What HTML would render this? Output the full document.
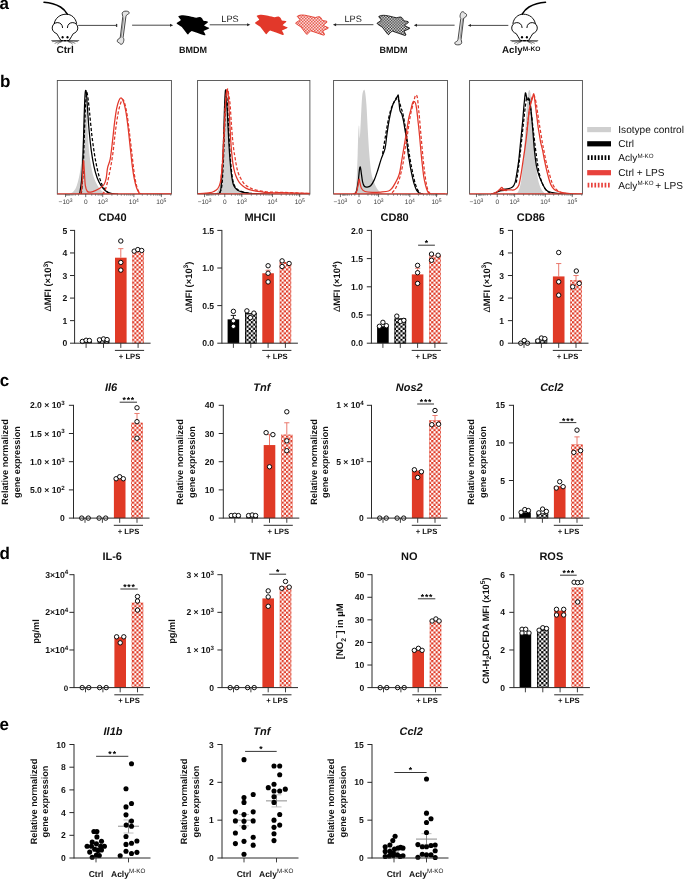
<!DOCTYPE html>
<html><head><meta charset="utf-8"><style>
html,body{margin:0;padding:0;background:#fff;}
svg{display:block;font-family:"Liberation Sans", sans-serif;will-change:transform;text-rendering:geometricPrecision;}
</style></head><body>
<svg width="685" height="879" viewBox="0 0 685 879">
<defs>
<pattern id="chkR" patternUnits="userSpaceOnUse" width="4.4" height="4.4" x="0" y="0">
<rect width="4.4" height="4.4" fill="#fff"/>
<rect width="2.2" height="2.2" fill="#e03a26"/><rect x="2.2" y="2.2" width="2.2" height="2.2" fill="#e03a26"/>
</pattern>
<pattern id="chkK" patternUnits="userSpaceOnUse" width="4.4" height="4.4" x="0" y="0">
<rect width="4.4" height="4.4" fill="#fff"/>
<rect width="2.2" height="2.2" fill="#000"/><rect x="2.2" y="2.2" width="2.2" height="2.2" fill="#000"/>
</pattern>
<pattern id="fchkR" patternUnits="userSpaceOnUse" width="3" height="3">
<rect width="3" height="3" fill="#fff"/><rect width="1.5" height="1.5" fill="#e2382a"/><rect x="1.5" y="1.5" width="1.5" height="1.5" fill="#e2382a"/>
</pattern>
<pattern id="fchkK" patternUnits="userSpaceOnUse" width="2.8" height="2.8">
<rect width="2.8" height="2.8" fill="#fff"/><rect width="1.4" height="1.4" fill="#1a1a1a"/><rect x="1.4" y="1.4" width="1.4" height="1.4" fill="#1a1a1a"/>
</pattern>
</defs>
<rect width="685" height="879" fill="#fff"/>
<text x="-0.60" y="8.70" font-size="17" font-weight="bold" text-anchor="start" fill="#000" >a</text>
<text x="0.10" y="86.80" font-size="17" font-weight="bold" text-anchor="start" fill="#000" >b</text>
<text x="-0.20" y="386.30" font-size="17" font-weight="bold" text-anchor="start" fill="#000" >c</text>
<text x="-0.50" y="558.50" font-size="17" font-weight="bold" text-anchor="start" fill="#000" >d</text>
<text x="-0.60" y="730.10" font-size="17" font-weight="bold" text-anchor="start" fill="#000" >e</text>
<rect x="80.30" y="341.17" width="11.6" height="2.03" fill="#000"/>
<rect x="97.70" y="339.59" width="11.6" height="3.61" fill="url(#chkK)"/>
<rect x="98.10" y="339.99" width="10.799999999999999" height="3.21" fill="none" stroke="#000" stroke-width="0.8"/>
<rect x="115.00" y="257.70" width="11.6" height="85.50" fill="#e03a26"/>
<rect x="132.30" y="250.70" width="11.6" height="92.50" fill="url(#chkR)"/>
<rect x="132.70" y="251.10" width="10.799999999999999" height="92.10" fill="none" stroke="#e03a26" stroke-width="0.6" stroke-opacity="0.5"/>
<line x1="120.80" y1="257.70" x2="120.80" y2="248.67" stroke="#e86b5e" stroke-width="0.9" />
<line x1="118.20" y1="248.67" x2="123.40" y2="248.67" stroke="#e86b5e" stroke-width="0.9" />
<circle cx="82.40" cy="341.40" r="2.2" fill="#fff" stroke="#000" stroke-width="0.95"/>
<circle cx="86.10" cy="340.27" r="2.2" fill="#fff" stroke="#000" stroke-width="0.95"/>
<circle cx="89.40" cy="340.49" r="2.2" fill="#fff" stroke="#000" stroke-width="0.95"/>
<circle cx="99.50" cy="339.82" r="2.2" fill="#fff" stroke="#000" stroke-width="0.95"/>
<circle cx="103.50" cy="338.91" r="2.2" fill="#fff" stroke="#000" stroke-width="0.95"/>
<circle cx="107.10" cy="339.59" r="2.2" fill="#fff" stroke="#000" stroke-width="0.95"/>
<circle cx="120.80" cy="241.00" r="2.2" fill="#fff" stroke="#000" stroke-width="0.95"/>
<circle cx="120.80" cy="262.44" r="2.2" fill="#fff" stroke="#000" stroke-width="0.95"/>
<circle cx="120.80" cy="270.11" r="2.2" fill="#fff" stroke="#000" stroke-width="0.95"/>
<circle cx="134.20" cy="251.16" r="2.2" fill="#fff" stroke="#000" stroke-width="0.95"/>
<circle cx="137.80" cy="249.58" r="2.2" fill="#fff" stroke="#000" stroke-width="0.95"/>
<circle cx="141.70" cy="250.48" r="2.2" fill="#fff" stroke="#000" stroke-width="0.95"/>
<line x1="74.60" y1="229.95" x2="74.60" y2="343.65" stroke="#2a2a2a" stroke-width="1.0" />
<line x1="74.60" y1="343.20" x2="150.60" y2="343.20" stroke="#2a2a2a" stroke-width="1.0" />
<line x1="70.00" y1="343.20" x2="74.60" y2="343.20" stroke="#2a2a2a" stroke-width="1.0" />
<text x="67.20" y="346.34" font-size="8.6" font-weight="bold" text-anchor="end" fill="#111">0</text>
<line x1="70.00" y1="320.64" x2="74.60" y2="320.64" stroke="#2a2a2a" stroke-width="1.0" />
<text x="67.20" y="323.78" font-size="8.6" font-weight="bold" text-anchor="end" fill="#111">1</text>
<line x1="70.00" y1="298.08" x2="74.60" y2="298.08" stroke="#2a2a2a" stroke-width="1.0" />
<text x="67.20" y="301.22" font-size="8.6" font-weight="bold" text-anchor="end" fill="#111">2</text>
<line x1="70.00" y1="275.52" x2="74.60" y2="275.52" stroke="#2a2a2a" stroke-width="1.0" />
<text x="67.20" y="278.66" font-size="8.6" font-weight="bold" text-anchor="end" fill="#111">3</text>
<line x1="70.00" y1="252.96" x2="74.60" y2="252.96" stroke="#2a2a2a" stroke-width="1.0" />
<text x="67.20" y="256.10" font-size="8.6" font-weight="bold" text-anchor="end" fill="#111">4</text>
<line x1="70.00" y1="230.40" x2="74.60" y2="230.40" stroke="#2a2a2a" stroke-width="1.0" />
<text x="67.20" y="233.54" font-size="8.6" font-weight="bold" text-anchor="end" fill="#111">5</text>
<line x1="86.10" y1="343.20" x2="86.10" y2="347.90" stroke="#2a2a2a" stroke-width="0.9" />
<line x1="103.50" y1="343.20" x2="103.50" y2="347.90" stroke="#2a2a2a" stroke-width="0.9" />
<line x1="120.80" y1="343.20" x2="120.80" y2="347.90" stroke="#2a2a2a" stroke-width="0.9" />
<line x1="138.10" y1="343.20" x2="138.10" y2="347.90" stroke="#2a2a2a" stroke-width="0.9" />
<line x1="114.90" y1="350.40" x2="144.10" y2="350.40" stroke="#2a2a2a" stroke-width="1.0" />
<text x="129.60" y="358.80" font-size="7.7" font-weight="bold" text-anchor="middle" fill="#111" >+ LPS</text>
<g transform="translate(47.80,286.20) rotate(-90)">
<text x="0" y="3.38" font-size="9.4" font-weight="bold" text-anchor="middle" fill="#111"><tspan font-weight="normal">Δ</tspan>MFI (×10<tspan font-size="6.6" dy="-3.4">3</tspan><tspan dy="3.4">)</tspan></text>
</g>
<rect x="227.60" y="319.36" width="11.6" height="23.84" fill="#000"/>
<rect x="245.00" y="313.12" width="11.6" height="30.08" fill="url(#chkK)"/>
<rect x="245.40" y="313.52" width="10.799999999999999" height="29.68" fill="none" stroke="#000" stroke-width="0.8"/>
<rect x="262.30" y="273.26" width="11.6" height="69.94" fill="#e03a26"/>
<rect x="279.60" y="261.98" width="11.6" height="81.22" fill="url(#chkR)"/>
<rect x="280.00" y="262.38" width="10.799999999999999" height="80.82" fill="none" stroke="#e03a26" stroke-width="0.6" stroke-opacity="0.5"/>
<line x1="233.40" y1="319.36" x2="233.40" y2="315.38" stroke="#000" stroke-width="0.9" />
<line x1="230.80" y1="315.38" x2="236.00" y2="315.38" stroke="#000" stroke-width="0.9" />
<line x1="268.10" y1="273.26" x2="268.10" y2="270.26" stroke="#e86b5e" stroke-width="0.9" />
<line x1="265.50" y1="270.26" x2="270.70" y2="270.26" stroke="#e86b5e" stroke-width="0.9" />
<circle cx="233.40" cy="311.32" r="2.2" fill="#fff" stroke="#000" stroke-width="0.95"/>
<circle cx="233.40" cy="320.79" r="2.2" fill="#fff" stroke="#000" stroke-width="0.95"/>
<circle cx="233.40" cy="326.36" r="2.2" fill="#fff" stroke="#000" stroke-width="0.95"/>
<circle cx="246.90" cy="310.86" r="2.2" fill="#fff" stroke="#000" stroke-width="0.95"/>
<circle cx="253.90" cy="313.12" r="2.2" fill="#fff" stroke="#000" stroke-width="0.95"/>
<circle cx="250.40" cy="317.63" r="2.2" fill="#fff" stroke="#000" stroke-width="0.95"/>
<circle cx="268.10" cy="265.74" r="2.2" fill="#fff" stroke="#000" stroke-width="0.95"/>
<circle cx="268.10" cy="273.26" r="2.2" fill="#fff" stroke="#000" stroke-width="0.95"/>
<circle cx="268.10" cy="281.91" r="2.2" fill="#fff" stroke="#000" stroke-width="0.95"/>
<circle cx="282.10" cy="260.86" r="2.2" fill="#fff" stroke="#000" stroke-width="0.95"/>
<circle cx="282.10" cy="266.50" r="2.2" fill="#fff" stroke="#000" stroke-width="0.95"/>
<circle cx="289.10" cy="263.49" r="2.2" fill="#fff" stroke="#000" stroke-width="0.95"/>
<line x1="221.90" y1="229.95" x2="221.90" y2="343.65" stroke="#2a2a2a" stroke-width="1.0" />
<line x1="221.90" y1="343.20" x2="297.90" y2="343.20" stroke="#2a2a2a" stroke-width="1.0" />
<line x1="217.30" y1="343.20" x2="221.90" y2="343.20" stroke="#2a2a2a" stroke-width="1.0" />
<text x="214.10" y="346.34" font-size="8.6" font-weight="bold" text-anchor="end" fill="#111">0.0</text>
<line x1="217.30" y1="305.60" x2="221.90" y2="305.60" stroke="#2a2a2a" stroke-width="1.0" />
<text x="214.10" y="308.74" font-size="8.6" font-weight="bold" text-anchor="end" fill="#111">0.5</text>
<line x1="217.30" y1="268.00" x2="221.90" y2="268.00" stroke="#2a2a2a" stroke-width="1.0" />
<text x="214.10" y="271.14" font-size="8.6" font-weight="bold" text-anchor="end" fill="#111">1.0</text>
<line x1="217.30" y1="230.40" x2="221.90" y2="230.40" stroke="#2a2a2a" stroke-width="1.0" />
<text x="214.10" y="233.54" font-size="8.6" font-weight="bold" text-anchor="end" fill="#111">1.5</text>
<line x1="233.40" y1="343.20" x2="233.40" y2="347.90" stroke="#2a2a2a" stroke-width="0.9" />
<line x1="250.80" y1="343.20" x2="250.80" y2="347.90" stroke="#2a2a2a" stroke-width="0.9" />
<line x1="268.10" y1="343.20" x2="268.10" y2="347.90" stroke="#2a2a2a" stroke-width="0.9" />
<line x1="285.40" y1="343.20" x2="285.40" y2="347.90" stroke="#2a2a2a" stroke-width="0.9" />
<line x1="262.20" y1="350.40" x2="291.40" y2="350.40" stroke="#2a2a2a" stroke-width="1.0" />
<text x="276.90" y="358.80" font-size="7.7" font-weight="bold" text-anchor="middle" fill="#111" >+ LPS</text>
<g transform="translate(188.40,287.00) rotate(-90)">
<text x="0" y="3.38" font-size="9.4" font-weight="bold" text-anchor="middle" fill="#111"><tspan font-weight="normal">Δ</tspan>MFI (×10<tspan font-size="6.6" dy="-3.4">3</tspan><tspan dy="3.4">)</tspan></text>
</g>
<rect x="377.10" y="326.28" width="11.6" height="16.92" fill="#000"/>
<rect x="394.50" y="318.38" width="11.6" height="24.82" fill="url(#chkK)"/>
<rect x="394.90" y="318.78" width="10.799999999999999" height="24.42" fill="none" stroke="#000" stroke-width="0.8"/>
<rect x="411.80" y="274.39" width="11.6" height="68.81" fill="#e03a26"/>
<rect x="429.10" y="255.22" width="11.6" height="87.98" fill="url(#chkR)"/>
<rect x="429.50" y="255.62" width="10.799999999999999" height="87.58" fill="none" stroke="#e03a26" stroke-width="0.6" stroke-opacity="0.5"/>
<line x1="417.60" y1="274.39" x2="417.60" y2="268.19" stroke="#e86b5e" stroke-width="0.9" />
<line x1="415.00" y1="268.19" x2="420.20" y2="268.19" stroke="#e86b5e" stroke-width="0.9" />
<circle cx="379.40" cy="326.28" r="2.2" fill="#fff" stroke="#000" stroke-width="0.95"/>
<circle cx="382.90" cy="322.33" r="2.2" fill="#fff" stroke="#000" stroke-width="0.95"/>
<circle cx="386.40" cy="325.72" r="2.2" fill="#fff" stroke="#000" stroke-width="0.95"/>
<circle cx="396.80" cy="316.13" r="2.2" fill="#fff" stroke="#000" stroke-width="0.95"/>
<circle cx="400.30" cy="321.49" r="2.2" fill="#fff" stroke="#000" stroke-width="0.95"/>
<circle cx="403.80" cy="320.36" r="2.2" fill="#fff" stroke="#000" stroke-width="0.95"/>
<circle cx="417.60" cy="265.37" r="2.2" fill="#fff" stroke="#000" stroke-width="0.95"/>
<circle cx="417.60" cy="272.70" r="2.2" fill="#fff" stroke="#000" stroke-width="0.95"/>
<circle cx="417.60" cy="283.42" r="2.2" fill="#fff" stroke="#000" stroke-width="0.95"/>
<circle cx="431.50" cy="254.09" r="2.2" fill="#fff" stroke="#000" stroke-width="0.95"/>
<circle cx="431.50" cy="260.29" r="2.2" fill="#fff" stroke="#000" stroke-width="0.95"/>
<circle cx="438.10" cy="255.22" r="2.2" fill="#fff" stroke="#000" stroke-width="0.95"/>
<line x1="371.40" y1="229.95" x2="371.40" y2="343.65" stroke="#2a2a2a" stroke-width="1.0" />
<line x1="371.40" y1="343.20" x2="447.40" y2="343.20" stroke="#2a2a2a" stroke-width="1.0" />
<line x1="366.80" y1="343.20" x2="371.40" y2="343.20" stroke="#2a2a2a" stroke-width="1.0" />
<text x="363.00" y="346.34" font-size="8.6" font-weight="bold" text-anchor="end" fill="#111">0.0</text>
<line x1="366.80" y1="315.00" x2="371.40" y2="315.00" stroke="#2a2a2a" stroke-width="1.0" />
<text x="363.00" y="318.14" font-size="8.6" font-weight="bold" text-anchor="end" fill="#111">0.5</text>
<line x1="366.80" y1="286.80" x2="371.40" y2="286.80" stroke="#2a2a2a" stroke-width="1.0" />
<text x="363.00" y="289.94" font-size="8.6" font-weight="bold" text-anchor="end" fill="#111">1.0</text>
<line x1="366.80" y1="258.60" x2="371.40" y2="258.60" stroke="#2a2a2a" stroke-width="1.0" />
<text x="363.00" y="261.74" font-size="8.6" font-weight="bold" text-anchor="end" fill="#111">1.5</text>
<line x1="366.80" y1="230.40" x2="371.40" y2="230.40" stroke="#2a2a2a" stroke-width="1.0" />
<text x="363.00" y="233.54" font-size="8.6" font-weight="bold" text-anchor="end" fill="#111">2.0</text>
<line x1="382.90" y1="343.20" x2="382.90" y2="347.90" stroke="#2a2a2a" stroke-width="0.9" />
<line x1="400.30" y1="343.20" x2="400.30" y2="347.90" stroke="#2a2a2a" stroke-width="0.9" />
<line x1="417.60" y1="343.20" x2="417.60" y2="347.90" stroke="#2a2a2a" stroke-width="0.9" />
<line x1="434.90" y1="343.20" x2="434.90" y2="347.90" stroke="#2a2a2a" stroke-width="0.9" />
<line x1="411.70" y1="350.40" x2="440.90" y2="350.40" stroke="#2a2a2a" stroke-width="1.0" />
<text x="426.40" y="358.80" font-size="7.7" font-weight="bold" text-anchor="middle" fill="#111" >+ LPS</text>
<line x1="418.10" y1="245.20" x2="434.90" y2="245.20" stroke="#2a2a2a" stroke-width="0.95" />
<text x="426.50" y="246.20" font-size="8.6" font-weight="bold" text-anchor="middle" fill="#000">*</text>
<g transform="translate(337.00,286.60) rotate(-90)">
<text x="0" y="3.38" font-size="9.4" font-weight="bold" text-anchor="middle" fill="#111"><tspan font-weight="normal">Δ</tspan>MFI (×10<tspan font-size="6.6" dy="-3.4">4</tspan><tspan dy="3.4">)</tspan></text>
</g>
<rect x="518.20" y="342.30" width="11.6" height="0.90" fill="#000"/>
<rect x="535.60" y="339.14" width="11.6" height="4.06" fill="url(#chkK)"/>
<rect x="536.00" y="339.54" width="10.799999999999999" height="3.66" fill="none" stroke="#000" stroke-width="0.8"/>
<rect x="552.90" y="276.42" width="11.6" height="66.78" fill="#e03a26"/>
<rect x="570.20" y="280.26" width="11.6" height="62.94" fill="url(#chkR)"/>
<rect x="570.60" y="280.66" width="10.799999999999999" height="62.54" fill="none" stroke="#e03a26" stroke-width="0.6" stroke-opacity="0.5"/>
<line x1="558.70" y1="276.42" x2="558.70" y2="263.56" stroke="#e86b5e" stroke-width="0.9" />
<line x1="556.10" y1="263.56" x2="561.30" y2="263.56" stroke="#e86b5e" stroke-width="0.9" />
<line x1="576.00" y1="280.26" x2="576.00" y2="275.52" stroke="#e86b5e" stroke-width="0.9" />
<line x1="573.40" y1="275.52" x2="578.60" y2="275.52" stroke="#e86b5e" stroke-width="0.9" />
<circle cx="520.70" cy="343.20" r="2.2" fill="#fff" stroke="#000" stroke-width="0.95"/>
<circle cx="524.20" cy="340.49" r="2.2" fill="#fff" stroke="#000" stroke-width="0.95"/>
<circle cx="527.50" cy="343.20" r="2.2" fill="#fff" stroke="#000" stroke-width="0.95"/>
<circle cx="537.80" cy="340.94" r="2.2" fill="#fff" stroke="#000" stroke-width="0.95"/>
<circle cx="541.40" cy="338.01" r="2.2" fill="#fff" stroke="#000" stroke-width="0.95"/>
<circle cx="544.80" cy="338.69" r="2.2" fill="#fff" stroke="#000" stroke-width="0.95"/>
<circle cx="558.70" cy="252.51" r="2.2" fill="#fff" stroke="#000" stroke-width="0.95"/>
<circle cx="558.70" cy="281.84" r="2.2" fill="#fff" stroke="#000" stroke-width="0.95"/>
<circle cx="558.70" cy="295.15" r="2.2" fill="#fff" stroke="#000" stroke-width="0.95"/>
<circle cx="576.30" cy="271.01" r="2.2" fill="#fff" stroke="#000" stroke-width="0.95"/>
<circle cx="572.70" cy="286.80" r="2.2" fill="#fff" stroke="#000" stroke-width="0.95"/>
<circle cx="579.20" cy="283.42" r="2.2" fill="#fff" stroke="#000" stroke-width="0.95"/>
<line x1="512.50" y1="229.95" x2="512.50" y2="343.65" stroke="#2a2a2a" stroke-width="1.0" />
<line x1="512.50" y1="343.20" x2="588.50" y2="343.20" stroke="#2a2a2a" stroke-width="1.0" />
<line x1="507.90" y1="343.20" x2="512.50" y2="343.20" stroke="#2a2a2a" stroke-width="1.0" />
<text x="504.10" y="346.34" font-size="8.6" font-weight="bold" text-anchor="end" fill="#111">0</text>
<line x1="507.90" y1="320.64" x2="512.50" y2="320.64" stroke="#2a2a2a" stroke-width="1.0" />
<text x="504.10" y="323.78" font-size="8.6" font-weight="bold" text-anchor="end" fill="#111">1</text>
<line x1="507.90" y1="298.08" x2="512.50" y2="298.08" stroke="#2a2a2a" stroke-width="1.0" />
<text x="504.10" y="301.22" font-size="8.6" font-weight="bold" text-anchor="end" fill="#111">2</text>
<line x1="507.90" y1="275.52" x2="512.50" y2="275.52" stroke="#2a2a2a" stroke-width="1.0" />
<text x="504.10" y="278.66" font-size="8.6" font-weight="bold" text-anchor="end" fill="#111">3</text>
<line x1="507.90" y1="252.96" x2="512.50" y2="252.96" stroke="#2a2a2a" stroke-width="1.0" />
<text x="504.10" y="256.10" font-size="8.6" font-weight="bold" text-anchor="end" fill="#111">4</text>
<line x1="507.90" y1="230.40" x2="512.50" y2="230.40" stroke="#2a2a2a" stroke-width="1.0" />
<text x="504.10" y="233.54" font-size="8.6" font-weight="bold" text-anchor="end" fill="#111">5</text>
<line x1="524.00" y1="343.20" x2="524.00" y2="347.90" stroke="#2a2a2a" stroke-width="0.9" />
<line x1="541.40" y1="343.20" x2="541.40" y2="347.90" stroke="#2a2a2a" stroke-width="0.9" />
<line x1="558.70" y1="343.20" x2="558.70" y2="347.90" stroke="#2a2a2a" stroke-width="0.9" />
<line x1="576.00" y1="343.20" x2="576.00" y2="347.90" stroke="#2a2a2a" stroke-width="0.9" />
<line x1="552.80" y1="350.40" x2="582.00" y2="350.40" stroke="#2a2a2a" stroke-width="1.0" />
<text x="567.50" y="358.80" font-size="7.7" font-weight="bold" text-anchor="middle" fill="#111" >+ LPS</text>
<g transform="translate(486.40,287.00) rotate(-90)">
<text x="0" y="3.38" font-size="9.4" font-weight="bold" text-anchor="middle" fill="#111"><tspan font-weight="normal">Δ</tspan>MFI (×10<tspan font-size="6.6" dy="-3.4">3</tspan><tspan dy="3.4">)</tspan></text>
</g>
<rect x="113.90" y="479.24" width="11.6" height="38.86" fill="#e03a26"/>
<rect x="131.20" y="422.67" width="11.6" height="95.43" fill="url(#chkR)"/>
<rect x="131.60" y="423.07" width="10.799999999999999" height="95.03" fill="none" stroke="#e03a26" stroke-width="0.6" stroke-opacity="0.5"/>
<line x1="137.00" y1="422.67" x2="137.00" y2="413.48" stroke="#e86b5e" stroke-width="0.9" />
<line x1="134.40" y1="413.48" x2="139.60" y2="413.48" stroke="#e86b5e" stroke-width="0.9" />
<circle cx="81.70" cy="518.10" r="2.2" fill="#fff" stroke="#000" stroke-width="0.95"/>
<circle cx="88.30" cy="518.10" r="2.2" fill="#fff" stroke="#000" stroke-width="0.95"/>
<circle cx="99.10" cy="518.10" r="2.2" fill="#fff" stroke="#000" stroke-width="0.95"/>
<circle cx="105.70" cy="518.10" r="2.2" fill="#fff" stroke="#000" stroke-width="0.95"/>
<circle cx="116.10" cy="478.73" r="2.2" fill="#fff" stroke="#000" stroke-width="0.95"/>
<circle cx="119.70" cy="476.76" r="2.2" fill="#fff" stroke="#000" stroke-width="0.95"/>
<circle cx="123.30" cy="478.73" r="2.2" fill="#fff" stroke="#000" stroke-width="0.95"/>
<circle cx="137.00" cy="407.78" r="2.2" fill="#fff" stroke="#000" stroke-width="0.95"/>
<circle cx="137.00" cy="421.66" r="2.2" fill="#fff" stroke="#000" stroke-width="0.95"/>
<circle cx="137.00" cy="438.24" r="2.2" fill="#fff" stroke="#000" stroke-width="0.95"/>
<line x1="73.50" y1="404.85" x2="73.50" y2="518.55" stroke="#2a2a2a" stroke-width="1.0" />
<line x1="73.50" y1="518.10" x2="149.50" y2="518.10" stroke="#2a2a2a" stroke-width="1.0" />
<line x1="68.90" y1="518.10" x2="73.50" y2="518.10" stroke="#2a2a2a" stroke-width="1.0" />
<text x="64.70" y="521.24" font-size="8.6" font-weight="bold" text-anchor="end" fill="#111">0</text>
<line x1="68.90" y1="489.90" x2="73.50" y2="489.90" stroke="#2a2a2a" stroke-width="1.0" />
<text x="64.70" y="493.04" font-size="8.6" font-weight="bold" text-anchor="end" fill="#111">5.0 × 10<tspan font-size="6.2" dy="-3.3">2</tspan></text>
<line x1="68.90" y1="461.70" x2="73.50" y2="461.70" stroke="#2a2a2a" stroke-width="1.0" />
<text x="64.70" y="464.84" font-size="8.6" font-weight="bold" text-anchor="end" fill="#111">1.0 × 10<tspan font-size="6.2" dy="-3.3">3</tspan></text>
<line x1="68.90" y1="433.50" x2="73.50" y2="433.50" stroke="#2a2a2a" stroke-width="1.0" />
<text x="64.70" y="436.64" font-size="8.6" font-weight="bold" text-anchor="end" fill="#111">1.5 × 10<tspan font-size="6.2" dy="-3.3">3</tspan></text>
<line x1="68.90" y1="405.30" x2="73.50" y2="405.30" stroke="#2a2a2a" stroke-width="1.0" />
<text x="64.70" y="408.44" font-size="8.6" font-weight="bold" text-anchor="end" fill="#111">2.0 × 10<tspan font-size="6.2" dy="-3.3">3</tspan></text>
<line x1="85.00" y1="518.10" x2="85.00" y2="522.80" stroke="#2a2a2a" stroke-width="0.9" />
<line x1="102.40" y1="518.10" x2="102.40" y2="522.80" stroke="#2a2a2a" stroke-width="0.9" />
<line x1="119.70" y1="518.10" x2="119.70" y2="522.80" stroke="#2a2a2a" stroke-width="0.9" />
<line x1="137.00" y1="518.10" x2="137.00" y2="522.80" stroke="#2a2a2a" stroke-width="0.9" />
<line x1="113.80" y1="525.30" x2="143.00" y2="525.30" stroke="#2a2a2a" stroke-width="1.0" />
<text x="128.50" y="533.70" font-size="7.7" font-weight="bold" text-anchor="middle" fill="#111" >+ LPS</text>
<line x1="119.70" y1="402.20" x2="137.00" y2="402.20" stroke="#2a2a2a" stroke-width="0.95" />
<text x="124.15" y="403.20" font-size="8.6" font-weight="bold" text-anchor="middle" fill="#000">*</text>
<text x="128.35" y="403.20" font-size="8.6" font-weight="bold" text-anchor="middle" fill="#000">*</text>
<text x="132.55" y="403.20" font-size="8.6" font-weight="bold" text-anchor="middle" fill="#000">*</text>
<text x="111.00" y="391.00" font-size="11" font-weight="bold" text-anchor="middle" fill="#111" font-style="italic" >Il6</text>
<g transform="translate(10.60,462.00) rotate(-90)">
<text x="0" y="-2.52" font-size="9.1" font-weight="bold" text-anchor="middle" fill="#111">Relative normalized</text>
<text x="0" y="9.08" font-size="9.1" font-weight="bold" text-anchor="middle" fill="#111">gene expression</text>
</g>
<rect x="229.00" y="516.41" width="11.6" height="1.69" fill="#000"/>
<rect x="246.40" y="516.41" width="11.6" height="1.69" fill="url(#chkK)"/>
<rect x="246.80" y="516.81" width="10.799999999999999" height="1.29" fill="none" stroke="#000" stroke-width="0.8"/>
<rect x="263.70" y="445.06" width="11.6" height="73.04" fill="#e03a26"/>
<rect x="281.00" y="434.63" width="11.6" height="83.47" fill="url(#chkR)"/>
<rect x="281.40" y="435.03" width="10.799999999999999" height="83.07" fill="none" stroke="#e03a26" stroke-width="0.6" stroke-opacity="0.5"/>
<line x1="269.50" y1="445.06" x2="269.50" y2="434.63" stroke="#e86b5e" stroke-width="0.9" />
<line x1="266.90" y1="434.63" x2="272.10" y2="434.63" stroke="#e86b5e" stroke-width="0.9" />
<line x1="286.80" y1="434.63" x2="286.80" y2="422.78" stroke="#e86b5e" stroke-width="0.9" />
<line x1="284.20" y1="422.78" x2="289.40" y2="422.78" stroke="#e86b5e" stroke-width="0.9" />
<circle cx="231.20" cy="515.56" r="2.2" fill="#fff" stroke="#000" stroke-width="0.95"/>
<circle cx="234.80" cy="515.28" r="2.2" fill="#fff" stroke="#000" stroke-width="0.95"/>
<circle cx="238.40" cy="515.56" r="2.2" fill="#fff" stroke="#000" stroke-width="0.95"/>
<circle cx="248.60" cy="515.56" r="2.2" fill="#fff" stroke="#000" stroke-width="0.95"/>
<circle cx="252.20" cy="515.00" r="2.2" fill="#fff" stroke="#000" stroke-width="0.95"/>
<circle cx="255.60" cy="515.56" r="2.2" fill="#fff" stroke="#000" stroke-width="0.95"/>
<circle cx="266.10" cy="432.65" r="2.2" fill="#fff" stroke="#000" stroke-width="0.95"/>
<circle cx="272.90" cy="434.63" r="2.2" fill="#fff" stroke="#000" stroke-width="0.95"/>
<circle cx="269.50" cy="466.78" r="2.2" fill="#fff" stroke="#000" stroke-width="0.95"/>
<circle cx="286.80" cy="411.79" r="2.2" fill="#fff" stroke="#000" stroke-width="0.95"/>
<circle cx="286.80" cy="440.83" r="2.2" fill="#fff" stroke="#000" stroke-width="0.95"/>
<circle cx="286.80" cy="450.70" r="2.2" fill="#fff" stroke="#000" stroke-width="0.95"/>
<line x1="223.30" y1="404.85" x2="223.30" y2="518.55" stroke="#2a2a2a" stroke-width="1.0" />
<line x1="223.30" y1="518.10" x2="299.30" y2="518.10" stroke="#2a2a2a" stroke-width="1.0" />
<line x1="218.70" y1="518.10" x2="223.30" y2="518.10" stroke="#2a2a2a" stroke-width="1.0" />
<text x="214.20" y="521.24" font-size="8.6" font-weight="bold" text-anchor="end" fill="#111">0</text>
<line x1="218.70" y1="489.90" x2="223.30" y2="489.90" stroke="#2a2a2a" stroke-width="1.0" />
<text x="214.20" y="493.04" font-size="8.6" font-weight="bold" text-anchor="end" fill="#111">10</text>
<line x1="218.70" y1="461.70" x2="223.30" y2="461.70" stroke="#2a2a2a" stroke-width="1.0" />
<text x="214.20" y="464.84" font-size="8.6" font-weight="bold" text-anchor="end" fill="#111">20</text>
<line x1="218.70" y1="433.50" x2="223.30" y2="433.50" stroke="#2a2a2a" stroke-width="1.0" />
<text x="214.20" y="436.64" font-size="8.6" font-weight="bold" text-anchor="end" fill="#111">30</text>
<line x1="218.70" y1="405.30" x2="223.30" y2="405.30" stroke="#2a2a2a" stroke-width="1.0" />
<text x="214.20" y="408.44" font-size="8.6" font-weight="bold" text-anchor="end" fill="#111">40</text>
<line x1="234.80" y1="518.10" x2="234.80" y2="522.80" stroke="#2a2a2a" stroke-width="0.9" />
<line x1="252.20" y1="518.10" x2="252.20" y2="522.80" stroke="#2a2a2a" stroke-width="0.9" />
<line x1="269.50" y1="518.10" x2="269.50" y2="522.80" stroke="#2a2a2a" stroke-width="0.9" />
<line x1="286.80" y1="518.10" x2="286.80" y2="522.80" stroke="#2a2a2a" stroke-width="0.9" />
<line x1="263.60" y1="525.30" x2="292.80" y2="525.30" stroke="#2a2a2a" stroke-width="1.0" />
<text x="278.30" y="533.70" font-size="7.7" font-weight="bold" text-anchor="middle" fill="#111" >+ LPS</text>
<text x="261.80" y="391.00" font-size="11" font-weight="bold" text-anchor="middle" fill="#111" font-style="italic" >Tnf</text>
<g transform="translate(185.80,462.00) rotate(-90)">
<text x="0" y="-2.52" font-size="9.1" font-weight="bold" text-anchor="middle" fill="#111">Relative normalized</text>
<text x="0" y="9.08" font-size="9.1" font-weight="bold" text-anchor="middle" fill="#111">gene expression</text>
</g>
<rect x="411.90" y="470.54" width="11.6" height="47.56" fill="#e03a26"/>
<rect x="429.20" y="420.19" width="11.6" height="97.91" fill="url(#chkR)"/>
<rect x="429.60" y="420.59" width="10.799999999999999" height="97.51" fill="none" stroke="#e03a26" stroke-width="0.6" stroke-opacity="0.5"/>
<line x1="435.00" y1="420.19" x2="435.00" y2="415.49" stroke="#e86b5e" stroke-width="0.9" />
<line x1="432.40" y1="415.49" x2="437.60" y2="415.49" stroke="#e86b5e" stroke-width="0.9" />
<circle cx="379.70" cy="518.10" r="2.2" fill="#fff" stroke="#000" stroke-width="0.95"/>
<circle cx="386.30" cy="518.10" r="2.2" fill="#fff" stroke="#000" stroke-width="0.95"/>
<circle cx="397.10" cy="518.10" r="2.2" fill="#fff" stroke="#000" stroke-width="0.95"/>
<circle cx="403.70" cy="518.10" r="2.2" fill="#fff" stroke="#000" stroke-width="0.95"/>
<circle cx="414.40" cy="469.75" r="2.2" fill="#fff" stroke="#000" stroke-width="0.95"/>
<circle cx="421.40" cy="471.75" r="2.2" fill="#fff" stroke="#000" stroke-width="0.95"/>
<circle cx="417.70" cy="477.44" r="2.2" fill="#fff" stroke="#000" stroke-width="0.95"/>
<circle cx="435.00" cy="410.50" r="2.2" fill="#fff" stroke="#000" stroke-width="0.95"/>
<circle cx="431.80" cy="424.69" r="2.2" fill="#fff" stroke="#000" stroke-width="0.95"/>
<circle cx="438.60" cy="424.18" r="2.2" fill="#fff" stroke="#000" stroke-width="0.95"/>
<line x1="371.50" y1="404.85" x2="371.50" y2="518.55" stroke="#2a2a2a" stroke-width="1.0" />
<line x1="371.50" y1="518.10" x2="447.50" y2="518.10" stroke="#2a2a2a" stroke-width="1.0" />
<line x1="366.90" y1="518.10" x2="371.50" y2="518.10" stroke="#2a2a2a" stroke-width="1.0" />
<text x="363.80" y="521.24" font-size="8.6" font-weight="bold" text-anchor="end" fill="#111">0</text>
<line x1="366.90" y1="461.70" x2="371.50" y2="461.70" stroke="#2a2a2a" stroke-width="1.0" />
<text x="363.80" y="464.84" font-size="8.6" font-weight="bold" text-anchor="end" fill="#111">5 × 10<tspan font-size="6.2" dy="-3.3">3</tspan></text>
<line x1="366.90" y1="405.30" x2="371.50" y2="405.30" stroke="#2a2a2a" stroke-width="1.0" />
<text x="363.80" y="408.44" font-size="8.6" font-weight="bold" text-anchor="end" fill="#111">1 × 10<tspan font-size="6.2" dy="-3.3">4</tspan></text>
<line x1="383.00" y1="518.10" x2="383.00" y2="522.80" stroke="#2a2a2a" stroke-width="0.9" />
<line x1="400.40" y1="518.10" x2="400.40" y2="522.80" stroke="#2a2a2a" stroke-width="0.9" />
<line x1="417.70" y1="518.10" x2="417.70" y2="522.80" stroke="#2a2a2a" stroke-width="0.9" />
<line x1="435.00" y1="518.10" x2="435.00" y2="522.80" stroke="#2a2a2a" stroke-width="0.9" />
<line x1="411.80" y1="525.30" x2="441.00" y2="525.30" stroke="#2a2a2a" stroke-width="1.0" />
<text x="426.50" y="533.70" font-size="7.7" font-weight="bold" text-anchor="middle" fill="#111" >+ LPS</text>
<line x1="417.20" y1="404.00" x2="434.00" y2="404.00" stroke="#2a2a2a" stroke-width="0.95" />
<text x="421.40" y="405.00" font-size="8.6" font-weight="bold" text-anchor="middle" fill="#000">*</text>
<text x="425.60" y="405.00" font-size="8.6" font-weight="bold" text-anchor="middle" fill="#000">*</text>
<text x="429.80" y="405.00" font-size="8.6" font-weight="bold" text-anchor="middle" fill="#000">*</text>
<text x="409.20" y="391.00" font-size="11" font-weight="bold" text-anchor="middle" fill="#111" font-style="italic" >Nos2</text>
<g transform="translate(319.50,462.00) rotate(-90)">
<text x="0" y="-2.22" font-size="9.1" font-weight="bold" text-anchor="middle" fill="#111">Relative normalized</text>
<text x="0" y="8.78" font-size="9.1" font-weight="bold" text-anchor="middle" fill="#111">gene expression</text>
</g>
<rect x="519.20" y="512.31" width="11.6" height="5.79" fill="#000"/>
<rect x="536.60" y="513.44" width="11.6" height="4.66" fill="url(#chkK)"/>
<rect x="537.00" y="513.84" width="10.799999999999999" height="4.26" fill="none" stroke="#000" stroke-width="0.8"/>
<rect x="553.90" y="486.14" width="11.6" height="31.96" fill="#e03a26"/>
<rect x="571.20" y="444.40" width="11.6" height="73.70" fill="url(#chkR)"/>
<rect x="571.60" y="444.80" width="10.799999999999999" height="73.30" fill="none" stroke="#e03a26" stroke-width="0.6" stroke-opacity="0.5"/>
<line x1="577.00" y1="444.40" x2="577.00" y2="436.88" stroke="#e86b5e" stroke-width="0.9" />
<line x1="574.40" y1="436.88" x2="579.60" y2="436.88" stroke="#e86b5e" stroke-width="0.9" />
<circle cx="521.10" cy="512.31" r="2.2" fill="#fff" stroke="#000" stroke-width="0.95"/>
<circle cx="524.80" cy="509.60" r="2.2" fill="#fff" stroke="#000" stroke-width="0.95"/>
<circle cx="528.40" cy="510.58" r="2.2" fill="#fff" stroke="#000" stroke-width="0.95"/>
<circle cx="538.80" cy="512.84" r="2.2" fill="#fff" stroke="#000" stroke-width="0.95"/>
<circle cx="542.60" cy="509.08" r="2.2" fill="#fff" stroke="#000" stroke-width="0.95"/>
<circle cx="546.40" cy="511.41" r="2.2" fill="#fff" stroke="#000" stroke-width="0.95"/>
<circle cx="556.30" cy="488.02" r="2.2" fill="#fff" stroke="#000" stroke-width="0.95"/>
<circle cx="559.70" cy="481.70" r="2.2" fill="#fff" stroke="#000" stroke-width="0.95"/>
<circle cx="563.10" cy="486.67" r="2.2" fill="#fff" stroke="#000" stroke-width="0.95"/>
<circle cx="577.00" cy="430.12" r="2.2" fill="#fff" stroke="#000" stroke-width="0.95"/>
<circle cx="573.80" cy="452.38" r="2.2" fill="#fff" stroke="#000" stroke-width="0.95"/>
<circle cx="580.60" cy="450.65" r="2.2" fill="#fff" stroke="#000" stroke-width="0.95"/>
<line x1="513.50" y1="404.85" x2="513.50" y2="518.55" stroke="#2a2a2a" stroke-width="1.0" />
<line x1="513.50" y1="518.10" x2="589.50" y2="518.10" stroke="#2a2a2a" stroke-width="1.0" />
<line x1="508.90" y1="518.10" x2="513.50" y2="518.10" stroke="#2a2a2a" stroke-width="1.0" />
<text x="505.00" y="521.24" font-size="8.6" font-weight="bold" text-anchor="end" fill="#111">0</text>
<line x1="508.90" y1="480.50" x2="513.50" y2="480.50" stroke="#2a2a2a" stroke-width="1.0" />
<text x="505.00" y="483.64" font-size="8.6" font-weight="bold" text-anchor="end" fill="#111">5</text>
<line x1="508.90" y1="442.90" x2="513.50" y2="442.90" stroke="#2a2a2a" stroke-width="1.0" />
<text x="505.00" y="446.04" font-size="8.6" font-weight="bold" text-anchor="end" fill="#111">10</text>
<line x1="508.90" y1="405.30" x2="513.50" y2="405.30" stroke="#2a2a2a" stroke-width="1.0" />
<text x="505.00" y="408.44" font-size="8.6" font-weight="bold" text-anchor="end" fill="#111">15</text>
<line x1="525.00" y1="518.10" x2="525.00" y2="522.80" stroke="#2a2a2a" stroke-width="0.9" />
<line x1="542.40" y1="518.10" x2="542.40" y2="522.80" stroke="#2a2a2a" stroke-width="0.9" />
<line x1="559.70" y1="518.10" x2="559.70" y2="522.80" stroke="#2a2a2a" stroke-width="0.9" />
<line x1="577.00" y1="518.10" x2="577.00" y2="522.80" stroke="#2a2a2a" stroke-width="0.9" />
<line x1="553.80" y1="525.30" x2="583.00" y2="525.30" stroke="#2a2a2a" stroke-width="1.0" />
<text x="568.50" y="533.70" font-size="7.7" font-weight="bold" text-anchor="middle" fill="#111" >+ LPS</text>
<line x1="559.40" y1="422.60" x2="576.30" y2="422.60" stroke="#2a2a2a" stroke-width="0.95" />
<text x="563.65" y="423.60" font-size="8.6" font-weight="bold" text-anchor="middle" fill="#000">*</text>
<text x="567.85" y="423.60" font-size="8.6" font-weight="bold" text-anchor="middle" fill="#000">*</text>
<text x="572.05" y="423.60" font-size="8.6" font-weight="bold" text-anchor="middle" fill="#000">*</text>
<text x="551.80" y="391.00" font-size="11" font-weight="bold" text-anchor="middle" fill="#111" font-style="italic" >Ccl2</text>
<g transform="translate(477.00,462.00) rotate(-90)">
<text x="0" y="-2.52" font-size="9.1" font-weight="bold" text-anchor="middle" fill="#111">Relative normalized</text>
<text x="0" y="9.08" font-size="9.1" font-weight="bold" text-anchor="middle" fill="#111">gene expression</text>
</g>
<rect x="114.40" y="637.17" width="11.6" height="50.43" fill="#e03a26"/>
<rect x="131.70" y="602.55" width="11.6" height="85.05" fill="url(#chkR)"/>
<rect x="132.10" y="602.95" width="10.799999999999999" height="84.65" fill="none" stroke="#e03a26" stroke-width="0.6" stroke-opacity="0.5"/>
<circle cx="82.20" cy="687.60" r="2.2" fill="#fff" stroke="#000" stroke-width="0.95"/>
<circle cx="88.80" cy="687.60" r="2.2" fill="#fff" stroke="#000" stroke-width="0.95"/>
<circle cx="99.60" cy="687.60" r="2.2" fill="#fff" stroke="#000" stroke-width="0.95"/>
<circle cx="106.20" cy="687.60" r="2.2" fill="#fff" stroke="#000" stroke-width="0.95"/>
<circle cx="116.60" cy="636.80" r="2.2" fill="#fff" stroke="#000" stroke-width="0.95"/>
<circle cx="123.80" cy="636.80" r="2.2" fill="#fff" stroke="#000" stroke-width="0.95"/>
<circle cx="120.20" cy="642.82" r="2.2" fill="#fff" stroke="#000" stroke-width="0.95"/>
<circle cx="137.50" cy="596.53" r="2.2" fill="#fff" stroke="#000" stroke-width="0.95"/>
<circle cx="137.50" cy="601.04" r="2.2" fill="#fff" stroke="#000" stroke-width="0.95"/>
<circle cx="137.50" cy="610.08" r="2.2" fill="#fff" stroke="#000" stroke-width="0.95"/>
<line x1="74.00" y1="574.25" x2="74.00" y2="688.05" stroke="#2a2a2a" stroke-width="1.0" />
<line x1="74.00" y1="687.60" x2="150.00" y2="687.60" stroke="#2a2a2a" stroke-width="1.0" />
<line x1="69.40" y1="687.60" x2="74.00" y2="687.60" stroke="#2a2a2a" stroke-width="1.0" />
<text x="68.20" y="690.52" font-size="8.0" font-weight="bold" text-anchor="end" fill="#111">0</text>
<line x1="69.40" y1="649.97" x2="74.00" y2="649.97" stroke="#2a2a2a" stroke-width="1.0" />
<text x="68.20" y="652.89" font-size="8.7" font-weight="bold" text-anchor="end" fill="#111">1×10<tspan font-size="6.2" dy="-3.3">4</tspan></text>
<line x1="69.40" y1="612.33" x2="74.00" y2="612.33" stroke="#2a2a2a" stroke-width="1.0" />
<text x="68.20" y="615.25" font-size="8.7" font-weight="bold" text-anchor="end" fill="#111">2×10<tspan font-size="6.2" dy="-3.3">4</tspan></text>
<line x1="69.40" y1="574.70" x2="74.00" y2="574.70" stroke="#2a2a2a" stroke-width="1.0" />
<text x="68.20" y="577.62" font-size="8.7" font-weight="bold" text-anchor="end" fill="#111">3×10<tspan font-size="6.2" dy="-3.3">4</tspan></text>
<line x1="85.50" y1="687.60" x2="85.50" y2="692.30" stroke="#2a2a2a" stroke-width="0.9" />
<line x1="102.90" y1="687.60" x2="102.90" y2="692.30" stroke="#2a2a2a" stroke-width="0.9" />
<line x1="120.20" y1="687.60" x2="120.20" y2="692.30" stroke="#2a2a2a" stroke-width="0.9" />
<line x1="137.50" y1="687.60" x2="137.50" y2="692.30" stroke="#2a2a2a" stroke-width="0.9" />
<line x1="114.30" y1="694.80" x2="143.50" y2="694.80" stroke="#2a2a2a" stroke-width="1.0" />
<text x="129.00" y="703.20" font-size="7.7" font-weight="bold" text-anchor="middle" fill="#111" >+ LPS</text>
<line x1="120.40" y1="589.00" x2="137.70" y2="589.00" stroke="#2a2a2a" stroke-width="0.95" />
<text x="124.85" y="590.00" font-size="8.6" font-weight="bold" text-anchor="middle" fill="#000">*</text>
<text x="129.05" y="590.00" font-size="8.6" font-weight="bold" text-anchor="middle" fill="#000">*</text>
<text x="133.25" y="590.00" font-size="8.6" font-weight="bold" text-anchor="middle" fill="#000">*</text>
<text x="112.20" y="560.00" font-size="11" font-weight="bold" text-anchor="middle" fill="#111" >IL-6</text>
<g transform="translate(35.60,631.50) rotate(-90)">
<text x="0" y="3.31" font-size="9.2" font-weight="bold" text-anchor="middle" fill="#111">pg/ml</text>
</g>
<rect x="262.40" y="598.41" width="11.6" height="89.19" fill="#e03a26"/>
<rect x="279.70" y="585.99" width="11.6" height="101.61" fill="url(#chkR)"/>
<rect x="280.10" y="586.39" width="10.799999999999999" height="101.21" fill="none" stroke="#e03a26" stroke-width="0.6" stroke-opacity="0.5"/>
<circle cx="230.20" cy="687.60" r="2.2" fill="#fff" stroke="#000" stroke-width="0.95"/>
<circle cx="236.80" cy="687.60" r="2.2" fill="#fff" stroke="#000" stroke-width="0.95"/>
<circle cx="247.60" cy="687.60" r="2.2" fill="#fff" stroke="#000" stroke-width="0.95"/>
<circle cx="254.20" cy="687.60" r="2.2" fill="#fff" stroke="#000" stroke-width="0.95"/>
<circle cx="268.20" cy="590.88" r="2.2" fill="#fff" stroke="#000" stroke-width="0.95"/>
<circle cx="268.20" cy="596.90" r="2.2" fill="#fff" stroke="#000" stroke-width="0.95"/>
<circle cx="268.20" cy="606.31" r="2.2" fill="#fff" stroke="#000" stroke-width="0.95"/>
<circle cx="285.50" cy="581.47" r="2.2" fill="#fff" stroke="#000" stroke-width="0.95"/>
<circle cx="281.80" cy="588.25" r="2.2" fill="#fff" stroke="#000" stroke-width="0.95"/>
<circle cx="289.20" cy="587.12" r="2.2" fill="#fff" stroke="#000" stroke-width="0.95"/>
<line x1="222.00" y1="574.25" x2="222.00" y2="688.05" stroke="#2a2a2a" stroke-width="1.0" />
<line x1="222.00" y1="687.60" x2="298.00" y2="687.60" stroke="#2a2a2a" stroke-width="1.0" />
<line x1="217.40" y1="687.60" x2="222.00" y2="687.60" stroke="#2a2a2a" stroke-width="1.0" />
<text x="214.00" y="690.74" font-size="8.6" font-weight="bold" text-anchor="end" fill="#111">0</text>
<line x1="217.40" y1="649.97" x2="222.00" y2="649.97" stroke="#2a2a2a" stroke-width="1.0" />
<text x="214.00" y="653.11" font-size="8.6" font-weight="bold" text-anchor="end" fill="#111">1 × 10<tspan font-size="6.2" dy="-3.3">3</tspan></text>
<line x1="217.40" y1="612.33" x2="222.00" y2="612.33" stroke="#2a2a2a" stroke-width="1.0" />
<text x="214.00" y="615.47" font-size="8.6" font-weight="bold" text-anchor="end" fill="#111">2 × 10<tspan font-size="6.2" dy="-3.3">3</tspan></text>
<line x1="217.40" y1="574.70" x2="222.00" y2="574.70" stroke="#2a2a2a" stroke-width="1.0" />
<text x="214.00" y="577.84" font-size="8.6" font-weight="bold" text-anchor="end" fill="#111">3 × 10<tspan font-size="6.2" dy="-3.3">3</tspan></text>
<line x1="233.50" y1="687.60" x2="233.50" y2="692.30" stroke="#2a2a2a" stroke-width="0.9" />
<line x1="250.90" y1="687.60" x2="250.90" y2="692.30" stroke="#2a2a2a" stroke-width="0.9" />
<line x1="268.20" y1="687.60" x2="268.20" y2="692.30" stroke="#2a2a2a" stroke-width="0.9" />
<line x1="285.50" y1="687.60" x2="285.50" y2="692.30" stroke="#2a2a2a" stroke-width="0.9" />
<line x1="262.30" y1="694.80" x2="291.50" y2="694.80" stroke="#2a2a2a" stroke-width="1.0" />
<text x="277.00" y="703.20" font-size="7.7" font-weight="bold" text-anchor="middle" fill="#111" >+ LPS</text>
<line x1="269.20" y1="574.20" x2="286.10" y2="574.20" stroke="#2a2a2a" stroke-width="0.95" />
<text x="277.65" y="575.20" font-size="8.6" font-weight="bold" text-anchor="middle" fill="#000">*</text>
<text x="260.50" y="560.00" font-size="11" font-weight="bold" text-anchor="middle" fill="#111" >TNF</text>
<g transform="translate(172.00,631.50) rotate(-90)">
<text x="0" y="3.31" font-size="9.2" font-weight="bold" text-anchor="middle" fill="#111">pg/ml</text>
</g>
<rect x="412.40" y="650.34" width="11.6" height="37.26" fill="#e03a26"/>
<rect x="429.70" y="620.99" width="11.6" height="66.61" fill="url(#chkR)"/>
<rect x="430.10" y="621.39" width="10.799999999999999" height="66.21" fill="none" stroke="#e03a26" stroke-width="0.6" stroke-opacity="0.5"/>
<circle cx="380.20" cy="687.60" r="2.2" fill="#fff" stroke="#000" stroke-width="0.95"/>
<circle cx="386.80" cy="687.60" r="2.2" fill="#fff" stroke="#000" stroke-width="0.95"/>
<circle cx="397.60" cy="687.60" r="2.2" fill="#fff" stroke="#000" stroke-width="0.95"/>
<circle cx="404.20" cy="687.60" r="2.2" fill="#fff" stroke="#000" stroke-width="0.95"/>
<circle cx="414.30" cy="650.34" r="2.2" fill="#fff" stroke="#000" stroke-width="0.95"/>
<circle cx="418.40" cy="648.31" r="2.2" fill="#fff" stroke="#000" stroke-width="0.95"/>
<circle cx="422.10" cy="650.34" r="2.2" fill="#fff" stroke="#000" stroke-width="0.95"/>
<circle cx="432.10" cy="620.99" r="2.2" fill="#fff" stroke="#000" stroke-width="0.95"/>
<circle cx="435.90" cy="618.96" r="2.2" fill="#fff" stroke="#000" stroke-width="0.95"/>
<circle cx="439.10" cy="620.99" r="2.2" fill="#fff" stroke="#000" stroke-width="0.95"/>
<line x1="372.00" y1="574.25" x2="372.00" y2="688.05" stroke="#2a2a2a" stroke-width="1.0" />
<line x1="372.00" y1="687.60" x2="448.00" y2="687.60" stroke="#2a2a2a" stroke-width="1.0" />
<line x1="367.40" y1="687.60" x2="372.00" y2="687.60" stroke="#2a2a2a" stroke-width="1.0" />
<text x="364.20" y="690.74" font-size="8.6" font-weight="bold" text-anchor="end" fill="#111">0</text>
<line x1="367.40" y1="665.02" x2="372.00" y2="665.02" stroke="#2a2a2a" stroke-width="1.0" />
<text x="364.20" y="668.16" font-size="8.6" font-weight="bold" text-anchor="end" fill="#111">10</text>
<line x1="367.40" y1="642.44" x2="372.00" y2="642.44" stroke="#2a2a2a" stroke-width="1.0" />
<text x="364.20" y="645.58" font-size="8.6" font-weight="bold" text-anchor="end" fill="#111">20</text>
<line x1="367.40" y1="619.86" x2="372.00" y2="619.86" stroke="#2a2a2a" stroke-width="1.0" />
<text x="364.20" y="623.00" font-size="8.6" font-weight="bold" text-anchor="end" fill="#111">30</text>
<line x1="367.40" y1="597.28" x2="372.00" y2="597.28" stroke="#2a2a2a" stroke-width="1.0" />
<text x="364.20" y="600.42" font-size="8.6" font-weight="bold" text-anchor="end" fill="#111">40</text>
<line x1="367.40" y1="574.70" x2="372.00" y2="574.70" stroke="#2a2a2a" stroke-width="1.0" />
<text x="364.20" y="577.84" font-size="8.6" font-weight="bold" text-anchor="end" fill="#111">50</text>
<line x1="383.50" y1="687.60" x2="383.50" y2="692.30" stroke="#2a2a2a" stroke-width="0.9" />
<line x1="400.90" y1="687.60" x2="400.90" y2="692.30" stroke="#2a2a2a" stroke-width="0.9" />
<line x1="418.20" y1="687.60" x2="418.20" y2="692.30" stroke="#2a2a2a" stroke-width="0.9" />
<line x1="435.50" y1="687.60" x2="435.50" y2="692.30" stroke="#2a2a2a" stroke-width="0.9" />
<line x1="412.30" y1="694.80" x2="441.50" y2="694.80" stroke="#2a2a2a" stroke-width="1.0" />
<text x="427.00" y="703.20" font-size="7.7" font-weight="bold" text-anchor="middle" fill="#111" >+ LPS</text>
<line x1="417.90" y1="598.80" x2="435.30" y2="598.80" stroke="#2a2a2a" stroke-width="0.95" />
<text x="422.40" y="599.80" font-size="8.6" font-weight="bold" text-anchor="middle" fill="#000">*</text>
<text x="426.60" y="599.80" font-size="8.6" font-weight="bold" text-anchor="middle" fill="#000">*</text>
<text x="430.80" y="599.80" font-size="8.6" font-weight="bold" text-anchor="middle" fill="#000">*</text>
<text x="409.20" y="560.00" font-size="11" font-weight="bold" text-anchor="middle" fill="#111" >NO</text>
<g transform="translate(339.90,631.30) rotate(-90)">
<text x="0" y="3.46" font-size="9.6" font-weight="bold" text-anchor="middle" fill="#111">[NO<tspan font-size="6.8" dy="2.2">2</tspan><tspan font-size="7" dx="-0.3" dy="-6.4">−</tspan><tspan dy="4.2" dx="0.3">] in µM</tspan></text>
</g>
<rect x="519.60" y="634.16" width="11.6" height="53.44" fill="#000"/>
<rect x="537.00" y="629.83" width="11.6" height="57.77" fill="url(#chkK)"/>
<rect x="537.40" y="630.23" width="10.799999999999999" height="57.37" fill="none" stroke="#000" stroke-width="0.8"/>
<rect x="554.30" y="610.64" width="11.6" height="76.96" fill="#e03a26"/>
<rect x="571.60" y="587.50" width="11.6" height="100.10" fill="url(#chkR)"/>
<rect x="572.00" y="587.90" width="10.799999999999999" height="99.70" fill="none" stroke="#e03a26" stroke-width="0.6" stroke-opacity="0.5"/>
<circle cx="522.00" cy="629.27" r="2.2" fill="#fff" stroke="#000" stroke-width="0.95"/>
<circle cx="525.70" cy="629.27" r="2.2" fill="#fff" stroke="#000" stroke-width="0.95"/>
<circle cx="522.00" cy="633.03" r="2.2" fill="#fff" stroke="#000" stroke-width="0.95"/>
<circle cx="529.00" cy="633.03" r="2.2" fill="#fff" stroke="#000" stroke-width="0.95"/>
<circle cx="539.10" cy="630.21" r="2.2" fill="#fff" stroke="#000" stroke-width="0.95"/>
<circle cx="542.80" cy="627.76" r="2.2" fill="#fff" stroke="#000" stroke-width="0.95"/>
<circle cx="546.50" cy="628.52" r="2.2" fill="#fff" stroke="#000" stroke-width="0.95"/>
<circle cx="556.50" cy="609.32" r="2.2" fill="#fff" stroke="#000" stroke-width="0.95"/>
<circle cx="563.70" cy="609.32" r="2.2" fill="#fff" stroke="#000" stroke-width="0.95"/>
<circle cx="556.50" cy="614.97" r="2.2" fill="#fff" stroke="#000" stroke-width="0.95"/>
<circle cx="563.70" cy="614.97" r="2.2" fill="#fff" stroke="#000" stroke-width="0.95"/>
<circle cx="574.10" cy="582.23" r="2.2" fill="#fff" stroke="#000" stroke-width="0.95"/>
<circle cx="577.70" cy="582.60" r="2.2" fill="#fff" stroke="#000" stroke-width="0.95"/>
<circle cx="581.30" cy="582.23" r="2.2" fill="#fff" stroke="#000" stroke-width="0.95"/>
<circle cx="577.70" cy="601.98" r="2.2" fill="#fff" stroke="#000" stroke-width="0.95"/>
<line x1="513.90" y1="574.25" x2="513.90" y2="688.05" stroke="#2a2a2a" stroke-width="1.0" />
<line x1="513.90" y1="687.60" x2="589.90" y2="687.60" stroke="#2a2a2a" stroke-width="1.0" />
<line x1="509.30" y1="687.60" x2="513.90" y2="687.60" stroke="#2a2a2a" stroke-width="1.0" />
<text x="505.10" y="690.74" font-size="8.6" font-weight="bold" text-anchor="end" fill="#111">0</text>
<line x1="509.30" y1="649.97" x2="513.90" y2="649.97" stroke="#2a2a2a" stroke-width="1.0" />
<text x="505.10" y="653.11" font-size="8.6" font-weight="bold" text-anchor="end" fill="#111">2</text>
<line x1="509.30" y1="612.33" x2="513.90" y2="612.33" stroke="#2a2a2a" stroke-width="1.0" />
<text x="505.10" y="615.47" font-size="8.6" font-weight="bold" text-anchor="end" fill="#111">4</text>
<line x1="509.30" y1="574.70" x2="513.90" y2="574.70" stroke="#2a2a2a" stroke-width="1.0" />
<text x="505.10" y="577.84" font-size="8.6" font-weight="bold" text-anchor="end" fill="#111">6</text>
<line x1="525.40" y1="687.60" x2="525.40" y2="692.30" stroke="#2a2a2a" stroke-width="0.9" />
<line x1="542.80" y1="687.60" x2="542.80" y2="692.30" stroke="#2a2a2a" stroke-width="0.9" />
<line x1="560.10" y1="687.60" x2="560.10" y2="692.30" stroke="#2a2a2a" stroke-width="0.9" />
<line x1="577.40" y1="687.60" x2="577.40" y2="692.30" stroke="#2a2a2a" stroke-width="0.9" />
<line x1="554.20" y1="694.80" x2="583.40" y2="694.80" stroke="#2a2a2a" stroke-width="1.0" />
<text x="568.90" y="703.20" font-size="7.7" font-weight="bold" text-anchor="middle" fill="#111" >+ LPS</text>
<line x1="560.00" y1="575.20" x2="576.70" y2="575.20" stroke="#2a2a2a" stroke-width="0.95" />
<text x="564.15" y="576.20" font-size="8.6" font-weight="bold" text-anchor="middle" fill="#000">*</text>
<text x="568.35" y="576.20" font-size="8.6" font-weight="bold" text-anchor="middle" fill="#000">*</text>
<text x="572.55" y="576.20" font-size="8.6" font-weight="bold" text-anchor="middle" fill="#000">*</text>
<text x="551.30" y="560.00" font-size="11" font-weight="bold" text-anchor="middle" fill="#111" >ROS</text>
<g transform="translate(485.40,630.60) rotate(-90)">
<text x="0" y="3.33" font-size="9.25" font-weight="bold" text-anchor="middle" fill="#111">CM-H<tspan font-size="6.6" dy="2">2</tspan><tspan dy="-2">DCFDA MFI (x10</tspan><tspan font-size="6.8" dy="-3.4">5</tspan><tspan dy="3.4">)</tspan></text>
</g>
<line x1="96.00" y1="849.49" x2="96.00" y2="844.95" stroke="#808080" stroke-width="0.9" />
<line x1="91.00" y1="849.49" x2="101.00" y2="849.49" stroke="#bcbcbc" stroke-width="0.95" />
<line x1="91.00" y1="844.95" x2="101.00" y2="844.95" stroke="#bcbcbc" stroke-width="0.95" />
<line x1="85.50" y1="847.22" x2="106.50" y2="847.22" stroke="#808080" stroke-width="0.9" />
<line x1="128.50" y1="833.03" x2="128.50" y2="819.98" stroke="#808080" stroke-width="0.9" />
<line x1="123.50" y1="833.03" x2="133.50" y2="833.03" stroke="#bcbcbc" stroke-width="0.95" />
<line x1="123.50" y1="819.98" x2="133.50" y2="819.98" stroke="#bcbcbc" stroke-width="0.95" />
<line x1="118.00" y1="826.22" x2="139.00" y2="826.22" stroke="#808080" stroke-width="0.9" />
<circle cx="93.90" cy="831.44" r="2.55" fill="#000"/>
<circle cx="96.90" cy="831.44" r="2.55" fill="#000"/>
<circle cx="96.90" cy="836.89" r="2.55" fill="#000"/>
<circle cx="92.20" cy="842.00" r="2.55" fill="#000"/>
<circle cx="101.50" cy="841.32" r="2.55" fill="#000"/>
<circle cx="96.40" cy="843.70" r="2.55" fill="#000"/>
<circle cx="87.10" cy="846.31" r="2.55" fill="#000"/>
<circle cx="91.40" cy="846.31" r="2.55" fill="#000"/>
<circle cx="100.70" cy="846.31" r="2.55" fill="#000"/>
<circle cx="104.40" cy="846.31" r="2.55" fill="#000"/>
<circle cx="89.70" cy="852.10" r="2.55" fill="#000"/>
<circle cx="94.70" cy="849.26" r="2.55" fill="#000"/>
<circle cx="98.10" cy="850.40" r="2.55" fill="#000"/>
<circle cx="101.50" cy="850.05" r="2.55" fill="#000"/>
<circle cx="92.20" cy="857.21" r="2.55" fill="#000"/>
<circle cx="99.30" cy="855.50" r="2.55" fill="#000"/>
<circle cx="96.40" cy="855.16" r="2.55" fill="#000"/>
<circle cx="131.50" cy="763.79" r="2.55" fill="#000"/>
<circle cx="126.00" cy="788.76" r="2.55" fill="#000"/>
<circle cx="131.50" cy="803.52" r="2.55" fill="#000"/>
<circle cx="126.00" cy="806.92" r="2.55" fill="#000"/>
<circle cx="126.00" cy="814.87" r="2.55" fill="#000"/>
<circle cx="131.50" cy="821.11" r="2.55" fill="#000"/>
<circle cx="126.20" cy="825.09" r="2.55" fill="#000"/>
<circle cx="131.50" cy="826.22" r="2.55" fill="#000"/>
<circle cx="126.00" cy="836.43" r="2.55" fill="#000"/>
<circle cx="136.90" cy="840.98" r="2.55" fill="#000"/>
<circle cx="126.00" cy="844.38" r="2.55" fill="#000"/>
<circle cx="131.50" cy="843.25" r="2.55" fill="#000"/>
<circle cx="126.00" cy="851.19" r="2.55" fill="#000"/>
<circle cx="131.50" cy="853.46" r="2.55" fill="#000"/>
<circle cx="136.90" cy="852.33" r="2.55" fill="#000"/>
<circle cx="120.20" cy="855.73" r="2.55" fill="#000"/>
<line x1="74.00" y1="744.05" x2="74.00" y2="858.45" stroke="#2a2a2a" stroke-width="1.0" />
<line x1="74.00" y1="858.00" x2="150.50" y2="858.00" stroke="#2a2a2a" stroke-width="1.0" />
<line x1="69.40" y1="858.00" x2="74.00" y2="858.00" stroke="#2a2a2a" stroke-width="1.0" />
<text x="65.80" y="861.14" font-size="8.6" font-weight="bold" text-anchor="end" fill="#111">0</text>
<line x1="69.40" y1="835.30" x2="74.00" y2="835.30" stroke="#2a2a2a" stroke-width="1.0" />
<text x="65.80" y="838.44" font-size="8.6" font-weight="bold" text-anchor="end" fill="#111">2</text>
<line x1="69.40" y1="812.60" x2="74.00" y2="812.60" stroke="#2a2a2a" stroke-width="1.0" />
<text x="65.80" y="815.74" font-size="8.6" font-weight="bold" text-anchor="end" fill="#111">4</text>
<line x1="69.40" y1="789.90" x2="74.00" y2="789.90" stroke="#2a2a2a" stroke-width="1.0" />
<text x="65.80" y="793.04" font-size="8.6" font-weight="bold" text-anchor="end" fill="#111">6</text>
<line x1="69.40" y1="767.20" x2="74.00" y2="767.20" stroke="#2a2a2a" stroke-width="1.0" />
<text x="65.80" y="770.34" font-size="8.6" font-weight="bold" text-anchor="end" fill="#111">8</text>
<line x1="69.40" y1="744.50" x2="74.00" y2="744.50" stroke="#2a2a2a" stroke-width="1.0" />
<text x="65.80" y="747.64" font-size="8.6" font-weight="bold" text-anchor="end" fill="#111">10</text>
<line x1="96.00" y1="858.00" x2="96.00" y2="862.40" stroke="#2a2a2a" stroke-width="0.9" />
<line x1="128.50" y1="858.00" x2="128.50" y2="862.40" stroke="#2a2a2a" stroke-width="0.9" />
<line x1="96.10" y1="756.30" x2="128.30" y2="756.30" stroke="#2a2a2a" stroke-width="0.95" />
<text x="109.90" y="756.90" font-size="8.6" font-weight="bold" text-anchor="middle" fill="#000">*</text>
<text x="114.50" y="756.90" font-size="8.6" font-weight="bold" text-anchor="middle" fill="#000">*</text>
<text x="96.00" y="876.50" font-size="8.5" font-weight="bold" text-anchor="middle" fill="#111" >Ctrl</text>
<text x="111.00" y="876.5" font-size="8.5" font-weight="bold" fill="#111">Acly<tspan font-size="6.3" font-weight="normal" dy="-3.6">M-KO</tspan></text>
<text x="113.00" y="734.50" font-size="11" font-weight="bold" text-anchor="middle" fill="#111" font-style="italic" >Il1b</text>
<g transform="translate(39.10,801.50) rotate(-90)">
<text x="0" y="-2.42" font-size="9.1" font-weight="bold" text-anchor="middle" fill="#111">Relative normalized</text>
<text x="0" y="8.98" font-size="9.1" font-weight="bold" text-anchor="middle" fill="#111">gene expression</text>
</g>
<line x1="244.00" y1="825.84" x2="244.00" y2="814.49" stroke="#808080" stroke-width="0.9" />
<line x1="239.00" y1="825.84" x2="249.00" y2="825.84" stroke="#bcbcbc" stroke-width="0.95" />
<line x1="239.00" y1="814.49" x2="249.00" y2="814.49" stroke="#bcbcbc" stroke-width="0.95" />
<line x1="233.50" y1="820.17" x2="254.50" y2="820.17" stroke="#808080" stroke-width="0.9" />
<line x1="276.50" y1="806.92" x2="276.50" y2="794.82" stroke="#808080" stroke-width="0.9" />
<line x1="271.50" y1="806.92" x2="281.50" y2="806.92" stroke="#bcbcbc" stroke-width="0.95" />
<line x1="271.50" y1="794.82" x2="281.50" y2="794.82" stroke="#bcbcbc" stroke-width="0.95" />
<line x1="266.00" y1="800.87" x2="287.00" y2="800.87" stroke="#808080" stroke-width="0.9" />
<circle cx="244.00" cy="759.63" r="2.55" fill="#000"/>
<circle cx="244.00" cy="797.47" r="2.55" fill="#000"/>
<circle cx="253.20" cy="794.44" r="2.55" fill="#000"/>
<circle cx="244.00" cy="802.38" r="2.55" fill="#000"/>
<circle cx="235.40" cy="811.84" r="2.55" fill="#000"/>
<circle cx="253.20" cy="811.84" r="2.55" fill="#000"/>
<circle cx="244.00" cy="814.49" r="2.55" fill="#000"/>
<circle cx="235.40" cy="820.92" r="2.55" fill="#000"/>
<circle cx="253.20" cy="820.92" r="2.55" fill="#000"/>
<circle cx="244.00" cy="821.30" r="2.55" fill="#000"/>
<circle cx="244.00" cy="827.36" r="2.55" fill="#000"/>
<circle cx="235.40" cy="833.03" r="2.55" fill="#000"/>
<circle cx="253.20" cy="837.19" r="2.55" fill="#000"/>
<circle cx="235.40" cy="843.62" r="2.55" fill="#000"/>
<circle cx="244.00" cy="841.35" r="2.55" fill="#000"/>
<circle cx="253.20" cy="845.14" r="2.55" fill="#000"/>
<circle cx="244.00" cy="854.22" r="2.55" fill="#000"/>
<circle cx="274.00" cy="766.06" r="2.55" fill="#000"/>
<circle cx="279.70" cy="766.06" r="2.55" fill="#000"/>
<circle cx="279.70" cy="774.77" r="2.55" fill="#000"/>
<circle cx="274.00" cy="784.23" r="2.55" fill="#000"/>
<circle cx="268.30" cy="787.63" r="2.55" fill="#000"/>
<circle cx="274.00" cy="791.03" r="2.55" fill="#000"/>
<circle cx="279.70" cy="791.03" r="2.55" fill="#000"/>
<circle cx="285.30" cy="789.14" r="2.55" fill="#000"/>
<circle cx="274.00" cy="796.71" r="2.55" fill="#000"/>
<circle cx="274.00" cy="802.38" r="2.55" fill="#000"/>
<circle cx="279.70" cy="814.49" r="2.55" fill="#000"/>
<circle cx="274.00" cy="820.17" r="2.55" fill="#000"/>
<circle cx="279.70" cy="825.09" r="2.55" fill="#000"/>
<circle cx="274.00" cy="827.36" r="2.55" fill="#000"/>
<circle cx="274.00" cy="833.79" r="2.55" fill="#000"/>
<circle cx="274.00" cy="840.60" r="2.55" fill="#000"/>
<line x1="222.00" y1="744.05" x2="222.00" y2="858.45" stroke="#2a2a2a" stroke-width="1.0" />
<line x1="222.00" y1="858.00" x2="298.50" y2="858.00" stroke="#2a2a2a" stroke-width="1.0" />
<line x1="217.40" y1="858.00" x2="222.00" y2="858.00" stroke="#2a2a2a" stroke-width="1.0" />
<text x="213.80" y="861.14" font-size="8.6" font-weight="bold" text-anchor="end" fill="#111">0</text>
<line x1="217.40" y1="820.17" x2="222.00" y2="820.17" stroke="#2a2a2a" stroke-width="1.0" />
<text x="213.80" y="823.31" font-size="8.6" font-weight="bold" text-anchor="end" fill="#111">1</text>
<line x1="217.40" y1="782.33" x2="222.00" y2="782.33" stroke="#2a2a2a" stroke-width="1.0" />
<text x="213.80" y="785.47" font-size="8.6" font-weight="bold" text-anchor="end" fill="#111">2</text>
<line x1="217.40" y1="744.50" x2="222.00" y2="744.50" stroke="#2a2a2a" stroke-width="1.0" />
<text x="213.80" y="747.64" font-size="8.6" font-weight="bold" text-anchor="end" fill="#111">3</text>
<line x1="244.00" y1="858.00" x2="244.00" y2="862.40" stroke="#2a2a2a" stroke-width="0.9" />
<line x1="276.50" y1="858.00" x2="276.50" y2="862.40" stroke="#2a2a2a" stroke-width="0.9" />
<line x1="245.10" y1="751.40" x2="276.70" y2="751.40" stroke="#2a2a2a" stroke-width="0.95" />
<text x="260.90" y="752.00" font-size="8.6" font-weight="bold" text-anchor="middle" fill="#000">*</text>
<text x="244.00" y="876.50" font-size="8.5" font-weight="bold" text-anchor="middle" fill="#111" >Ctrl</text>
<text x="259.00" y="876.5" font-size="8.5" font-weight="bold" fill="#111">Acly<tspan font-size="6.3" font-weight="normal" dy="-3.6">M-KO</tspan></text>
<text x="261.80" y="734.50" font-size="11" font-weight="bold" text-anchor="middle" fill="#111" font-style="italic" >Tnf</text>
<g transform="translate(189.50,801.50) rotate(-90)">
<text x="0" y="-2.67" font-size="9.1" font-weight="bold" text-anchor="middle" fill="#111">Relative normalized</text>
<text x="0" y="9.23" font-size="9.1" font-weight="bold" text-anchor="middle" fill="#111">gene expression</text>
</g>
<line x1="394.00" y1="851.57" x2="394.00" y2="848.54" stroke="#808080" stroke-width="0.9" />
<line x1="389.00" y1="851.57" x2="399.00" y2="851.57" stroke="#bcbcbc" stroke-width="0.95" />
<line x1="389.00" y1="848.54" x2="399.00" y2="848.54" stroke="#bcbcbc" stroke-width="0.95" />
<line x1="383.50" y1="850.05" x2="404.50" y2="850.05" stroke="#808080" stroke-width="0.9" />
<line x1="426.50" y1="844.38" x2="426.50" y2="833.64" stroke="#808080" stroke-width="0.9" />
<line x1="421.50" y1="844.38" x2="431.50" y2="844.38" stroke="#bcbcbc" stroke-width="0.95" />
<line x1="421.50" y1="833.64" x2="431.50" y2="833.64" stroke="#bcbcbc" stroke-width="0.95" />
<line x1="416.00" y1="839.08" x2="437.00" y2="839.08" stroke="#808080" stroke-width="0.9" />
<circle cx="395.10" cy="836.21" r="2.55" fill="#000"/>
<circle cx="392.80" cy="840.60" r="2.55" fill="#000"/>
<circle cx="385.20" cy="846.73" r="2.55" fill="#000"/>
<circle cx="389.90" cy="844.99" r="2.55" fill="#000"/>
<circle cx="394.50" cy="849.00" r="2.55" fill="#000"/>
<circle cx="398.00" cy="847.94" r="2.55" fill="#000"/>
<circle cx="400.60" cy="847.33" r="2.55" fill="#000"/>
<circle cx="403.00" cy="847.94" r="2.55" fill="#000"/>
<circle cx="385.20" cy="851.42" r="2.55" fill="#000"/>
<circle cx="389.90" cy="851.42" r="2.55" fill="#000"/>
<circle cx="393.40" cy="853.08" r="2.55" fill="#000"/>
<circle cx="385.20" cy="856.56" r="2.55" fill="#000"/>
<circle cx="389.30" cy="856.03" r="2.55" fill="#000"/>
<circle cx="393.40" cy="855.50" r="2.55" fill="#000"/>
<circle cx="397.40" cy="854.90" r="2.55" fill="#000"/>
<circle cx="400.10" cy="856.56" r="2.55" fill="#000"/>
<circle cx="403.00" cy="855.81" r="2.55" fill="#000"/>
<circle cx="426.50" cy="778.93" r="2.55" fill="#000"/>
<circle cx="426.50" cy="813.13" r="2.55" fill="#000"/>
<circle cx="431.00" cy="818.73" r="2.55" fill="#000"/>
<circle cx="426.50" cy="822.44" r="2.55" fill="#000"/>
<circle cx="426.50" cy="832.50" r="2.55" fill="#000"/>
<circle cx="417.90" cy="844.61" r="2.55" fill="#000"/>
<circle cx="422.30" cy="846.73" r="2.55" fill="#000"/>
<circle cx="426.50" cy="846.73" r="2.55" fill="#000"/>
<circle cx="431.00" cy="845.51" r="2.55" fill="#000"/>
<circle cx="435.20" cy="844.99" r="2.55" fill="#000"/>
<circle cx="435.20" cy="850.81" r="2.55" fill="#000"/>
<circle cx="422.30" cy="854.29" r="2.55" fill="#000"/>
<circle cx="426.50" cy="854.90" r="2.55" fill="#000"/>
<circle cx="431.00" cy="854.90" r="2.55" fill="#000"/>
<circle cx="417.90" cy="857.24" r="2.55" fill="#000"/>
<circle cx="435.20" cy="857.47" r="2.55" fill="#000"/>
<line x1="372.00" y1="744.05" x2="372.00" y2="858.45" stroke="#2a2a2a" stroke-width="1.0" />
<line x1="372.00" y1="858.00" x2="448.50" y2="858.00" stroke="#2a2a2a" stroke-width="1.0" />
<line x1="367.40" y1="858.00" x2="372.00" y2="858.00" stroke="#2a2a2a" stroke-width="1.0" />
<text x="363.80" y="861.14" font-size="8.6" font-weight="bold" text-anchor="end" fill="#111">0</text>
<line x1="367.40" y1="820.17" x2="372.00" y2="820.17" stroke="#2a2a2a" stroke-width="1.0" />
<text x="363.80" y="823.31" font-size="8.6" font-weight="bold" text-anchor="end" fill="#111">5</text>
<line x1="367.40" y1="782.33" x2="372.00" y2="782.33" stroke="#2a2a2a" stroke-width="1.0" />
<text x="363.80" y="785.47" font-size="8.6" font-weight="bold" text-anchor="end" fill="#111">10</text>
<line x1="367.40" y1="744.50" x2="372.00" y2="744.50" stroke="#2a2a2a" stroke-width="1.0" />
<text x="363.80" y="747.64" font-size="8.6" font-weight="bold" text-anchor="end" fill="#111">15</text>
<line x1="394.00" y1="858.00" x2="394.00" y2="862.40" stroke="#2a2a2a" stroke-width="0.9" />
<line x1="426.50" y1="858.00" x2="426.50" y2="862.40" stroke="#2a2a2a" stroke-width="0.9" />
<line x1="394.30" y1="772.50" x2="426.60" y2="772.50" stroke="#2a2a2a" stroke-width="0.95" />
<text x="410.45" y="773.10" font-size="8.6" font-weight="bold" text-anchor="middle" fill="#000">*</text>
<text x="394.00" y="876.50" font-size="8.5" font-weight="bold" text-anchor="middle" fill="#111" >Ctrl</text>
<text x="409.00" y="876.5" font-size="8.5" font-weight="bold" fill="#111">Acly<tspan font-size="6.3" font-weight="normal" dy="-3.6">M-KO</tspan></text>
<text x="411.20" y="734.50" font-size="11" font-weight="bold" text-anchor="middle" fill="#111" font-style="italic" >Ccl2</text>
<g transform="translate(336.30,801.50) rotate(-90)">
<text x="0" y="-2.67" font-size="9.1" font-weight="bold" text-anchor="middle" fill="#111">Relative normalized</text>
<text x="0" y="9.23" font-size="9.1" font-weight="bold" text-anchor="middle" fill="#111">gene expression</text>
</g>
<clipPath id="hclip0"><rect x="57.30" y="80.50" width="114.10" height="113.60"/></clipPath>
<clipPath id="hclip1"><rect x="197.60" y="80.50" width="112.30" height="113.60"/></clipPath>
<clipPath id="hclip2"><rect x="333.60" y="80.50" width="113.90" height="113.60"/></clipPath>
<clipPath id="hclip3"><rect x="469.60" y="80.50" width="112.80" height="113.60"/></clipPath>
<g clip-path="url(#hclip0)">
<path d="M69.02,194.13 C69.75,193.69 72.08,192.96 73.40,191.50 C74.71,190.04 75.73,189.02 76.90,185.37 C78.07,181.72 79.44,176.32 80.40,169.60 C81.37,162.89 82.07,153.54 82.68,145.08 C83.29,136.61 83.67,126.10 84.08,118.80 C84.49,111.50 84.72,103.32 85.13,101.28 C85.54,99.23 86.01,99.82 86.53,106.53 C87.06,113.25 87.62,132.23 88.29,141.57 C88.96,150.92 89.69,156.76 90.56,162.60 C91.44,168.44 92.32,172.67 93.54,176.61 C94.77,180.55 96.32,183.68 97.92,186.25 C99.53,188.82 101.28,190.71 103.18,192.03 C105.08,193.34 108.29,193.78 109.31,194.13 L109.31,194.10 L69.02,194.10 Z" fill="#cfcfcf"/>
<path d="M79.53,194.13 C79.88,191.80 81.05,186.83 81.63,180.12 C82.21,173.40 82.62,164.06 83.03,153.84 C83.44,143.62 83.76,128.43 84.08,118.80 C84.40,109.16 84.70,100.75 84.96,96.02 C85.22,91.29 85.40,90.71 85.66,90.42 C85.92,90.12 86.21,91.00 86.53,94.27 C86.86,97.54 87.15,103.91 87.59,110.04 C88.02,116.17 88.55,124.35 89.16,131.06 C89.78,137.78 90.48,144.49 91.26,150.33 C92.05,156.17 92.93,161.57 93.89,166.10 C94.86,170.63 95.88,174.28 97.05,177.49 C98.21,180.70 99.44,183.12 100.90,185.37 C102.36,187.62 103.97,189.61 105.81,190.98 C107.65,192.35 109.89,193.08 111.94,193.61 C113.98,194.13 117.05,194.04 118.07,194.13" fill="none" stroke="#000" stroke-width="1.25" stroke-linejoin="round"/>
<path d="M81.28,194.13 C81.57,190.63 82.51,183.33 83.03,173.11 C83.56,162.89 83.99,144.49 84.43,132.81 C84.87,121.13 85.28,109.75 85.66,103.03 C86.04,96.32 86.33,93.40 86.71,92.52 C87.09,91.64 87.44,94.27 87.94,97.78 C88.43,101.28 89.05,107.41 89.69,113.54 C90.33,119.67 91.00,127.85 91.79,134.57 C92.58,141.28 93.48,148.00 94.42,153.84 C95.35,159.68 96.32,164.93 97.40,169.60 C98.48,174.28 99.64,178.51 100.90,181.87 C102.16,185.23 103.53,187.85 104.93,189.75 C106.33,191.65 107.70,192.53 109.31,193.26 C110.92,193.99 113.69,193.99 114.57,194.13" fill="none" stroke="#000" stroke-width="1.25" stroke-dasharray="3.2,1.9"/>
<path d="M77.78,194.13 C78.30,193.90 80.17,195.07 80.93,192.73 C81.69,190.39 81.92,185.43 82.33,180.12 C82.74,174.80 83.06,162.60 83.38,160.84 C83.70,159.09 83.94,165.52 84.26,169.60 C84.58,173.69 84.78,181.72 85.31,185.37 C85.83,189.02 86.48,190.39 87.41,191.50 C88.35,192.61 89.60,192.17 90.91,192.03 C92.23,191.88 93.75,191.30 95.29,190.63 C96.84,189.96 98.74,189.02 100.20,188.00 C101.66,186.98 103.06,186.10 104.05,184.50 C105.05,182.89 105.57,181.14 106.16,178.36 C106.74,175.59 106.89,171.06 107.56,167.85 C108.23,164.64 109.37,163.47 110.19,159.09 C111.00,154.71 111.73,147.70 112.46,141.57 C113.19,135.44 113.86,127.85 114.57,122.30 C115.27,116.75 115.94,111.94 116.67,108.29 C117.40,104.64 118.22,102.15 118.95,100.40 C119.68,98.65 120.32,97.63 121.05,97.78 C121.78,97.92 122.57,99.23 123.33,101.28 C124.08,103.32 124.84,105.95 125.60,110.04 C126.36,114.13 127.15,119.97 127.88,125.81 C128.61,131.65 129.28,138.65 129.98,145.08 C130.68,151.50 131.38,158.80 132.08,164.35 C132.79,169.90 133.43,174.42 134.19,178.36 C134.95,182.31 135.82,185.60 136.64,188.00 C137.46,190.39 138.25,191.71 139.09,192.73 C139.94,193.75 136.46,193.90 141.72,194.13 C146.98,194.36 165.81,194.13 170.63,194.13" fill="none" stroke="#e2382b" stroke-width="1.25" stroke-linejoin="round"/>
<path d="M102.30,194.13 C102.74,193.55 104.05,192.67 104.93,190.63 C105.81,188.58 106.68,185.37 107.56,181.87 C108.43,178.36 109.31,174.28 110.19,169.60 C111.06,164.93 111.94,160.26 112.81,153.84 C113.69,147.41 114.57,137.78 115.44,131.06 C116.32,124.35 117.19,118.21 118.07,113.54 C118.95,108.87 119.88,105.37 120.70,103.03 C121.51,100.69 122.24,99.23 122.97,99.53 C123.70,99.82 124.38,102.15 125.08,104.78 C125.78,107.41 126.45,110.62 127.18,115.29 C127.91,119.97 128.70,126.68 129.46,132.81 C130.22,138.95 130.95,145.37 131.73,152.08 C132.52,158.80 133.40,167.56 134.19,173.11 C134.98,178.66 135.71,182.31 136.46,185.37 C137.22,188.44 137.95,190.04 138.74,191.50 C139.53,192.96 140.79,193.69 141.19,194.13" fill="none" stroke="#e2382b" stroke-width="1.25" stroke-dasharray="3.2,1.9"/>
</g>
<rect x="57.30" y="80.50" width="114.10" height="113.60" fill="none" stroke="#444" stroke-width="0.85"/>
<line x1="57.30" y1="193.80" x2="171.40" y2="193.80" stroke="#e2382b" stroke-width="1.0"/>
<line x1="65.52" y1="194.10" x2="65.52" y2="197.10" stroke="#333" stroke-width="0.7" />
<text x="65.52" y="204.20" font-size="6.5" text-anchor="middle" fill="#3a3a3a">−10<tspan font-size="5.0" dy="-2.6">3</tspan></text>
<line x1="85.71" y1="194.10" x2="85.71" y2="197.10" stroke="#333" stroke-width="0.7" />
<text x="85.71" y="204.20" font-size="6.5" text-anchor="middle" fill="#3a3a3a">0</text>
<line x1="102.71" y1="194.10" x2="102.71" y2="197.10" stroke="#333" stroke-width="0.7" />
<text x="102.71" y="204.20" font-size="6.5" text-anchor="middle" fill="#3a3a3a">10<tspan font-size="5.0" dy="-2.6">3</tspan></text>
<line x1="133.86" y1="194.10" x2="133.86" y2="197.10" stroke="#333" stroke-width="0.7" />
<text x="133.86" y="204.20" font-size="6.5" text-anchor="middle" fill="#3a3a3a">10<tspan font-size="5.0" dy="-2.6">4</tspan></text>
<line x1="161.36" y1="194.10" x2="161.36" y2="197.10" stroke="#333" stroke-width="0.7" />
<text x="161.36" y="204.20" font-size="6.5" text-anchor="middle" fill="#3a3a3a">10<tspan font-size="5.0" dy="-2.6">5</tspan></text>
<line x1="78.51" y1="194.10" x2="78.51" y2="195.90" stroke="#444" stroke-width="0.5" />
<line x1="75.24" y1="194.10" x2="75.24" y2="195.90" stroke="#444" stroke-width="0.5" />
<line x1="72.92" y1="194.10" x2="72.92" y2="195.90" stroke="#444" stroke-width="0.5" />
<line x1="71.11" y1="194.10" x2="71.11" y2="195.90" stroke="#444" stroke-width="0.5" />
<line x1="69.64" y1="194.10" x2="69.64" y2="195.90" stroke="#444" stroke-width="0.5" />
<line x1="68.40" y1="194.10" x2="68.40" y2="195.90" stroke="#444" stroke-width="0.5" />
<line x1="67.32" y1="194.10" x2="67.32" y2="195.90" stroke="#444" stroke-width="0.5" />
<line x1="66.37" y1="194.10" x2="66.37" y2="195.90" stroke="#444" stroke-width="0.5" />
<line x1="111.89" y1="194.10" x2="111.89" y2="195.90" stroke="#444" stroke-width="0.5" />
<line x1="117.40" y1="194.10" x2="117.40" y2="195.90" stroke="#444" stroke-width="0.5" />
<line x1="121.31" y1="194.10" x2="121.31" y2="195.90" stroke="#444" stroke-width="0.5" />
<line x1="124.34" y1="194.10" x2="124.34" y2="195.90" stroke="#444" stroke-width="0.5" />
<line x1="126.81" y1="194.10" x2="126.81" y2="195.90" stroke="#444" stroke-width="0.5" />
<line x1="128.90" y1="194.10" x2="128.90" y2="195.90" stroke="#444" stroke-width="0.5" />
<line x1="130.72" y1="194.10" x2="130.72" y2="195.90" stroke="#444" stroke-width="0.5" />
<line x1="132.32" y1="194.10" x2="132.32" y2="195.90" stroke="#444" stroke-width="0.5" />
<line x1="142.30" y1="194.10" x2="142.30" y2="195.90" stroke="#444" stroke-width="0.5" />
<line x1="147.30" y1="194.10" x2="147.30" y2="195.90" stroke="#444" stroke-width="0.5" />
<line x1="150.85" y1="194.10" x2="150.85" y2="195.90" stroke="#444" stroke-width="0.5" />
<line x1="153.61" y1="194.10" x2="153.61" y2="195.90" stroke="#444" stroke-width="0.5" />
<line x1="155.85" y1="194.10" x2="155.85" y2="195.90" stroke="#444" stroke-width="0.5" />
<line x1="157.76" y1="194.10" x2="157.76" y2="195.90" stroke="#444" stroke-width="0.5" />
<line x1="159.40" y1="194.10" x2="159.40" y2="195.90" stroke="#444" stroke-width="0.5" />
<line x1="160.86" y1="194.10" x2="160.86" y2="195.90" stroke="#444" stroke-width="0.5" />
<line x1="170.74" y1="194.10" x2="170.74" y2="195.90" stroke="#444" stroke-width="0.5" />
<line x1="91.74" y1="194.10" x2="91.74" y2="195.90" stroke="#444" stroke-width="0.5" />
<line x1="95.56" y1="194.10" x2="95.56" y2="195.90" stroke="#444" stroke-width="0.5" />
<line x1="98.14" y1="194.10" x2="98.14" y2="195.90" stroke="#444" stroke-width="0.5" />
<line x1="100.08" y1="194.10" x2="100.08" y2="195.90" stroke="#444" stroke-width="0.5" />
<line x1="101.64" y1="194.10" x2="101.64" y2="195.90" stroke="#444" stroke-width="0.5" />
<g clip-path="url(#hclip1)">
<path d="M215.01,194.11 C215.43,193.67 216.68,192.96 217.52,191.48 C218.35,189.99 219.29,188.34 220.02,185.21 C220.75,182.08 221.38,178.53 221.90,172.69 C222.42,166.84 222.78,158.49 223.15,150.14 C223.53,141.79 223.84,130.93 224.16,122.58 C224.47,114.23 224.72,105.04 225.03,100.03 C225.35,95.02 225.72,92.52 226.03,92.52 C226.35,92.52 226.56,93.98 226.91,100.03 C227.27,106.09 227.68,119.24 228.16,128.84 C228.64,138.45 229.23,149.93 229.79,157.65 C230.36,165.38 230.88,170.81 231.55,175.19 C232.21,179.58 232.90,181.66 233.80,183.96 C234.70,186.26 235.68,187.61 236.93,188.97 C238.18,190.33 239.54,191.25 241.32,192.10 C243.09,192.96 246.54,193.77 247.58,194.11 L247.58,194.10 L215.01,194.10 Z" fill="#cfcfcf"/>
<path d="M205.00,194.10 C207.09,194.06 215.01,194.19 217.52,193.86 C220.02,193.52 219.44,193.13 220.02,192.10 C220.61,191.08 220.69,190.95 221.02,187.72 C221.36,184.48 221.69,178.32 222.03,172.69 C222.36,167.05 222.71,161.20 223.03,153.90 C223.34,146.59 223.63,137.19 223.90,128.84 C224.18,120.49 224.38,110.26 224.66,103.79 C224.93,97.32 225.24,91.05 225.53,90.01 C225.83,88.97 226.08,93.14 226.41,97.53 C226.74,101.91 227.14,109.01 227.54,116.32 C227.93,123.62 228.37,134.06 228.79,141.37 C229.21,148.68 229.58,154.52 230.04,160.16 C230.50,165.80 231.02,171.22 231.55,175.19 C232.07,179.16 232.59,181.87 233.17,183.96 C233.76,186.05 234.32,186.67 235.05,187.72 C235.78,188.76 236.31,189.49 237.56,190.22 C238.81,190.95 240.48,191.58 242.57,192.10 C244.66,192.62 247.16,193.06 250.09,193.36 C253.01,193.65 256.79,193.73 260.11,193.86 C263.43,193.98 268.35,194.07 270.00,194.11" fill="none" stroke="#000" stroke-width="1.25" stroke-linejoin="round"/>
<path d="M220.02,192.73 C220.33,191.48 221.38,189.60 221.90,185.21 C222.42,180.83 222.78,173.73 223.15,166.42 C223.53,159.12 223.84,149.72 224.16,141.37 C224.47,133.02 224.72,124.46 225.03,116.32 C225.35,108.17 225.70,95.23 226.03,92.52 C226.37,89.80 226.66,95.02 227.04,100.03 C227.41,105.04 227.85,114.65 228.29,122.58 C228.73,130.51 229.21,140.33 229.67,147.63 C230.13,154.94 230.52,160.99 231.04,166.42 C231.57,171.85 232.13,176.86 232.80,180.20 C233.47,183.54 234.05,184.80 235.05,186.47 C236.06,188.14 237.14,189.22 238.81,190.22 C240.48,191.23 242.78,191.89 245.07,192.48 C247.37,193.06 250.09,193.46 252.59,193.73 C255.10,194.00 258.85,194.04 260.11,194.11" fill="none" stroke="#000" stroke-width="1.25" stroke-dasharray="3.2,1.9"/>
<path d="M197.60,193.60 C199.00,193.53 203.93,193.35 206.00,193.20 C208.07,193.05 208.71,193.02 210.00,192.73 C211.29,192.44 212.51,192.10 213.76,191.48 C215.01,190.85 216.43,190.43 217.52,188.97 C218.60,187.51 219.48,186.47 220.27,182.71 C221.07,178.95 221.73,172.27 222.28,166.42 C222.82,160.58 223.15,154.31 223.53,147.63 C223.90,140.95 224.20,133.65 224.53,126.34 C224.86,119.03 225.16,109.84 225.53,103.79 C225.91,97.74 226.39,91.89 226.79,90.01 C227.18,88.13 227.58,90.22 227.91,92.52 C228.25,94.81 228.48,98.78 228.79,103.79 C229.10,108.80 229.46,116.32 229.79,122.58 C230.13,128.84 230.44,135.94 230.79,141.37 C231.15,146.80 231.52,151.18 231.92,155.15 C232.32,159.12 232.69,162.25 233.17,165.17 C233.65,168.09 234.18,170.49 234.80,172.69 C235.43,174.88 236.16,176.65 236.93,178.32 C237.70,179.99 238.50,181.45 239.44,182.71 C240.38,183.96 241.42,184.90 242.57,185.84 C243.72,186.78 244.87,187.61 246.33,188.34 C247.79,189.08 249.46,189.70 251.34,190.22 C253.22,190.75 255.30,191.12 257.60,191.48 C259.90,191.83 263.05,192.14 265.12,192.35 C267.18,192.56 265.86,192.65 270.00,192.73 C274.15,192.80 283.33,192.67 290.00,192.80 C296.67,192.93 306.67,193.38 310.00,193.50" fill="none" stroke="#e2382b" stroke-width="1.25" stroke-linejoin="round"/>
<path d="M220.65,182.71 C220.96,178.95 222.00,168.09 222.53,160.16 C223.05,152.23 223.36,143.46 223.78,135.11 C224.20,126.76 224.61,116.73 225.03,110.05 C225.45,103.37 225.87,98.57 226.28,95.02 C226.70,91.47 227.12,88.76 227.54,88.76 C227.95,88.76 228.37,92.52 228.79,95.02 C229.21,97.53 229.63,99.20 230.04,103.79 C230.46,108.38 230.88,116.73 231.30,122.58 C231.71,128.43 232.13,134.27 232.55,138.86 C232.97,143.46 233.38,147.01 233.80,150.14 C234.22,153.27 234.59,154.94 235.05,157.65 C235.51,160.37 236.03,163.92 236.56,166.42 C237.08,168.93 237.50,170.70 238.18,172.69 C238.87,174.67 239.75,176.55 240.69,178.32 C241.63,180.10 242.67,181.98 243.82,183.33 C244.97,184.69 246.12,185.53 247.58,186.47 C249.04,187.41 250.50,188.24 252.59,188.97 C254.68,189.70 257.20,190.33 260.11,190.85 C263.01,191.37 265.85,191.84 270.00,192.10 C274.15,192.36 278.33,192.15 285.00,192.40 C291.67,192.65 305.83,193.40 310.00,193.60" fill="none" stroke="#e2382b" stroke-width="1.25" stroke-dasharray="3.2,1.9"/>
</g>
<rect x="197.60" y="80.50" width="112.30" height="113.60" fill="none" stroke="#444" stroke-width="0.85"/>
<line x1="197.60" y1="193.80" x2="309.90" y2="193.80" stroke="#e2382b" stroke-width="1.0"/>
<line x1="204.56" y1="194.10" x2="204.56" y2="197.10" stroke="#333" stroke-width="0.7" />
<text x="204.56" y="204.20" font-size="6.5" text-anchor="middle" fill="#3a3a3a">−10<tspan font-size="5.0" dy="-2.6">3</tspan></text>
<line x1="224.78" y1="194.10" x2="224.78" y2="197.10" stroke="#333" stroke-width="0.7" />
<text x="224.78" y="204.20" font-size="6.5" text-anchor="middle" fill="#3a3a3a">0</text>
<line x1="241.85" y1="194.10" x2="241.85" y2="197.10" stroke="#333" stroke-width="0.7" />
<text x="241.85" y="204.20" font-size="6.5" text-anchor="middle" fill="#3a3a3a">10<tspan font-size="5.0" dy="-2.6">3</tspan></text>
<line x1="272.50" y1="194.10" x2="272.50" y2="197.10" stroke="#333" stroke-width="0.7" />
<text x="272.50" y="204.20" font-size="6.5" text-anchor="middle" fill="#3a3a3a">10<tspan font-size="5.0" dy="-2.6">4</tspan></text>
<line x1="299.68" y1="194.10" x2="299.68" y2="197.10" stroke="#333" stroke-width="0.7" />
<text x="299.68" y="204.20" font-size="6.5" text-anchor="middle" fill="#3a3a3a">10<tspan font-size="5.0" dy="-2.6">5</tspan></text>
<line x1="218.48" y1="194.10" x2="218.48" y2="195.90" stroke="#444" stroke-width="0.5" />
<line x1="215.26" y1="194.10" x2="215.26" y2="195.90" stroke="#444" stroke-width="0.5" />
<line x1="212.97" y1="194.10" x2="212.97" y2="195.90" stroke="#444" stroke-width="0.5" />
<line x1="211.20" y1="194.10" x2="211.20" y2="195.90" stroke="#444" stroke-width="0.5" />
<line x1="209.75" y1="194.10" x2="209.75" y2="195.90" stroke="#444" stroke-width="0.5" />
<line x1="208.52" y1="194.10" x2="208.52" y2="195.90" stroke="#444" stroke-width="0.5" />
<line x1="207.46" y1="194.10" x2="207.46" y2="195.90" stroke="#444" stroke-width="0.5" />
<line x1="206.52" y1="194.10" x2="206.52" y2="195.90" stroke="#444" stroke-width="0.5" />
<line x1="251.33" y1="194.10" x2="251.33" y2="195.90" stroke="#444" stroke-width="0.5" />
<line x1="256.75" y1="194.10" x2="256.75" y2="195.90" stroke="#444" stroke-width="0.5" />
<line x1="260.60" y1="194.10" x2="260.60" y2="195.90" stroke="#444" stroke-width="0.5" />
<line x1="263.58" y1="194.10" x2="263.58" y2="195.90" stroke="#444" stroke-width="0.5" />
<line x1="266.01" y1="194.10" x2="266.01" y2="195.90" stroke="#444" stroke-width="0.5" />
<line x1="268.07" y1="194.10" x2="268.07" y2="195.90" stroke="#444" stroke-width="0.5" />
<line x1="269.86" y1="194.10" x2="269.86" y2="195.90" stroke="#444" stroke-width="0.5" />
<line x1="271.43" y1="194.10" x2="271.43" y2="195.90" stroke="#444" stroke-width="0.5" />
<line x1="281.26" y1="194.10" x2="281.26" y2="195.90" stroke="#444" stroke-width="0.5" />
<line x1="286.18" y1="194.10" x2="286.18" y2="195.90" stroke="#444" stroke-width="0.5" />
<line x1="289.68" y1="194.10" x2="289.68" y2="195.90" stroke="#444" stroke-width="0.5" />
<line x1="292.39" y1="194.10" x2="292.39" y2="195.90" stroke="#444" stroke-width="0.5" />
<line x1="294.60" y1="194.10" x2="294.60" y2="195.90" stroke="#444" stroke-width="0.5" />
<line x1="296.47" y1="194.10" x2="296.47" y2="195.90" stroke="#444" stroke-width="0.5" />
<line x1="298.09" y1="194.10" x2="298.09" y2="195.90" stroke="#444" stroke-width="0.5" />
<line x1="299.52" y1="194.10" x2="299.52" y2="195.90" stroke="#444" stroke-width="0.5" />
<line x1="309.26" y1="194.10" x2="309.26" y2="195.90" stroke="#444" stroke-width="0.5" />
<line x1="231.49" y1="194.10" x2="231.49" y2="195.90" stroke="#444" stroke-width="0.5" />
<line x1="235.26" y1="194.10" x2="235.26" y2="195.90" stroke="#444" stroke-width="0.5" />
<line x1="237.79" y1="194.10" x2="237.79" y2="195.90" stroke="#444" stroke-width="0.5" />
<line x1="239.71" y1="194.10" x2="239.71" y2="195.90" stroke="#444" stroke-width="0.5" />
<line x1="241.24" y1="194.10" x2="241.24" y2="195.90" stroke="#444" stroke-width="0.5" />
<g clip-path="url(#hclip2)">
<path d="M355.40,194.13 C355.61,191.80 356.25,186.83 356.63,180.12 C357.01,173.40 357.39,162.01 357.68,153.84 C357.97,145.66 358.15,135.73 358.38,131.06 C358.61,126.39 358.85,124.64 359.08,125.81 C359.32,126.97 359.49,138.95 359.78,138.07 C360.07,137.19 360.45,127.27 360.83,120.55 C361.21,113.83 361.62,102.80 362.06,97.78 C362.50,92.75 362.97,91.44 363.46,90.42 C363.96,89.40 364.54,89.25 365.04,91.64 C365.53,94.04 365.97,98.21 366.44,104.78 C366.91,111.35 367.35,122.59 367.84,131.06 C368.34,139.53 368.83,148.58 369.42,155.59 C370.00,162.60 370.62,168.73 371.35,173.11 C372.08,177.49 372.92,179.39 373.80,181.87 C374.67,184.35 375.58,186.31 376.60,188.00 C377.62,189.69 378.65,191.01 379.93,192.03 C381.21,193.05 383.58,193.78 384.31,194.13 L384.31,194.10 L355.40,194.10 Z" fill="#cfcfcf"/>
<path d="M354.53,194.13 C354.88,193.55 355.99,192.96 356.63,190.63 C357.27,188.29 357.91,183.62 358.38,180.12 C358.85,176.61 359.11,171.79 359.43,169.60 C359.75,167.41 360.02,166.54 360.31,166.98 C360.60,167.41 360.80,169.75 361.18,172.23 C361.56,174.71 362.06,179.53 362.59,181.87 C363.11,184.20 363.58,185.37 364.34,186.25 C365.10,187.12 366.09,187.21 367.14,187.12 C368.19,187.04 369.48,186.89 370.64,185.72 C371.81,184.55 372.98,182.66 374.15,180.12 C375.32,177.58 376.48,173.98 377.65,170.48 C378.82,166.98 379.93,162.75 381.16,159.09 C382.38,155.44 384.06,152.51 385.00,148.56 C385.94,144.62 386.20,139.60 386.79,135.42 C387.39,131.23 387.99,127.05 388.59,123.46 C389.18,119.88 389.78,116.69 390.38,113.90 C390.98,111.11 391.57,108.72 392.17,106.73 C392.77,104.74 393.27,103.25 393.96,101.95 C394.66,100.66 395.66,100.16 396.35,98.96 C397.05,97.77 397.75,94.68 398.15,94.78 C398.55,94.88 398.45,96.97 398.74,99.56 C399.04,102.15 399.44,107.93 399.94,110.32 C400.44,112.71 401.13,112.11 401.73,113.90 C402.33,115.70 403.03,118.68 403.53,121.07 C404.02,123.46 404.32,125.86 404.72,128.25 C405.12,130.64 405.52,132.63 405.92,135.42 C406.31,138.21 406.71,141.79 407.11,144.98 C407.51,148.17 407.91,151.75 408.31,154.54 C408.70,157.33 409.10,159.32 409.50,161.71 C409.90,164.10 410.20,166.29 410.70,168.88 C411.19,171.47 411.89,174.66 412.49,177.25 C413.09,179.84 413.58,182.23 414.28,184.42 C414.98,186.61 415.78,188.90 416.67,190.39 C417.57,191.89 418.56,192.76 419.66,193.38 C420.76,194.00 422.65,193.98 423.25,194.10" fill="none" stroke="#000" stroke-width="1.25" stroke-linejoin="round"/>
<path d="M382.56,153.84 C383.08,150.62 384.72,140.41 385.71,134.57 C386.70,128.73 387.58,123.18 388.51,118.80 C389.45,114.42 390.38,111.06 391.32,108.29 C392.25,105.51 393.18,104.01 394.12,102.15 C395.06,100.30 396.08,97.20 396.95,97.17 C397.82,97.14 398.64,100.16 399.34,101.95 C400.04,103.74 400.54,105.94 401.13,107.93 C401.73,109.92 402.33,111.31 402.93,113.90 C403.53,116.49 404.12,119.88 404.72,123.46 C405.32,127.05 405.92,131.43 406.51,135.42 C407.11,139.40 407.71,143.38 408.31,147.37 C408.90,151.35 409.50,155.73 410.10,159.32 C410.70,162.91 411.29,165.89 411.89,168.88 C412.49,171.87 413.09,174.66 413.68,177.25 C414.28,179.84 414.78,182.23 415.48,184.42 C416.17,186.61 416.97,188.88 417.87,190.39 C418.76,191.91 419.76,192.88 420.86,193.50 C421.95,194.12 423.84,194.00 424.44,194.10" fill="none" stroke="#000" stroke-width="1.25" stroke-dasharray="3.2,1.9"/>
<path d="M352.78,194.13 C353.36,193.84 355.40,193.84 356.28,192.38 C357.15,190.92 357.56,187.56 358.03,185.37 C358.50,183.18 358.76,179.68 359.08,179.24 C359.40,178.80 359.55,181.20 359.96,182.74 C360.37,184.29 360.69,187.06 361.53,188.52 C362.38,189.98 363.29,190.86 365.04,191.50 C366.79,192.15 369.42,192.29 372.05,192.38 C374.67,192.47 378.05,192.26 380.81,192.03 C383.56,191.80 386.69,191.66 388.59,190.99 C390.48,190.32 390.98,189.50 392.17,188.00 C393.37,186.51 394.76,183.82 395.76,182.03 C396.75,180.24 397.45,179.04 398.15,177.25 C398.84,175.45 399.34,174.06 399.94,171.27 C400.54,168.48 401.13,164.10 401.73,160.52 C402.33,156.93 402.93,153.34 403.53,149.76 C404.12,146.17 404.72,142.59 405.32,139.00 C405.92,135.42 406.51,131.83 407.11,128.25 C407.71,124.66 408.31,120.48 408.90,117.49 C409.50,114.50 410.10,112.71 410.70,110.32 C411.29,107.93 411.99,104.64 412.49,103.15 C412.99,101.65 413.19,101.35 413.68,101.35 C414.18,101.35 414.98,101.85 415.48,103.15 C415.97,104.44 416.27,106.33 416.67,109.12 C417.07,111.91 417.47,116.29 417.87,119.88 C418.27,123.46 418.66,126.65 419.06,130.64 C419.46,134.62 419.86,139.40 420.26,143.78 C420.66,148.17 421.05,152.95 421.45,156.93 C421.85,160.91 422.25,164.30 422.65,167.69 C423.05,171.07 423.35,174.26 423.84,177.25 C424.34,180.24 425.04,183.32 425.64,185.61 C426.23,187.90 426.83,189.70 427.43,190.99 C428.03,192.29 428.32,192.86 429.22,193.38 C430.12,193.90 430.18,193.98 432.81,194.10 C435.44,194.22 442.97,194.10 445.00,194.10" fill="none" stroke="#e2382b" stroke-width="1.25" stroke-linejoin="round"/>
<path d="M392.17,192.78 C392.77,191.99 394.66,190.00 395.76,188.00 C396.85,186.01 397.85,183.42 398.74,180.83 C399.64,178.24 400.34,175.85 401.13,172.47 C401.93,169.08 402.83,164.70 403.53,160.52 C404.22,156.33 404.72,151.35 405.32,147.37 C405.92,143.38 406.51,140.40 407.11,136.61 C407.71,132.83 408.31,128.44 408.90,124.66 C409.50,120.88 409.90,117.69 410.70,113.90 C411.49,110.12 412.89,105.04 413.68,101.95 C414.48,98.86 414.88,96.18 415.48,95.38 C416.07,94.58 416.77,95.08 417.27,97.17 C417.77,99.26 418.07,104.14 418.46,107.93 C418.86,111.71 419.26,115.50 419.66,119.88 C420.06,124.26 420.46,129.64 420.86,134.22 C421.25,138.80 421.65,142.99 422.05,147.37 C422.45,151.75 422.81,156.33 423.25,160.52 C423.68,164.70 424.18,168.68 424.68,172.47 C425.18,176.25 425.68,180.24 426.23,183.22 C426.79,186.21 427.33,188.58 428.03,190.39 C428.72,192.21 430.02,193.48 430.42,194.10" fill="none" stroke="#e2382b" stroke-width="1.25" stroke-dasharray="3.2,1.9"/>
</g>
<rect x="333.60" y="80.50" width="113.90" height="113.60" fill="none" stroke="#444" stroke-width="0.85"/>
<line x1="333.60" y1="193.80" x2="447.50" y2="193.80" stroke="#e2382b" stroke-width="1.0"/>
<line x1="340.43" y1="194.10" x2="340.43" y2="197.10" stroke="#333" stroke-width="0.7" />
<text x="340.43" y="204.20" font-size="6.5" text-anchor="middle" fill="#3a3a3a">−10<tspan font-size="5.0" dy="-2.6">3</tspan></text>
<line x1="359.00" y1="194.10" x2="359.00" y2="197.10" stroke="#333" stroke-width="0.7" />
<text x="359.00" y="204.20" font-size="6.5" text-anchor="middle" fill="#3a3a3a">0</text>
<line x1="378.59" y1="194.10" x2="378.59" y2="197.10" stroke="#333" stroke-width="0.7" />
<text x="378.59" y="204.20" font-size="6.5" text-anchor="middle" fill="#3a3a3a">10<tspan font-size="5.0" dy="-2.6">3</tspan></text>
<line x1="409.80" y1="194.10" x2="409.80" y2="197.10" stroke="#333" stroke-width="0.7" />
<text x="409.80" y="204.20" font-size="6.5" text-anchor="middle" fill="#3a3a3a">10<tspan font-size="5.0" dy="-2.6">4</tspan></text>
<line x1="436.45" y1="194.10" x2="436.45" y2="197.10" stroke="#333" stroke-width="0.7" />
<text x="436.45" y="204.20" font-size="6.5" text-anchor="middle" fill="#3a3a3a">10<tspan font-size="5.0" dy="-2.6">5</tspan></text>
<line x1="354.78" y1="194.10" x2="354.78" y2="195.90" stroke="#444" stroke-width="0.5" />
<line x1="351.51" y1="194.10" x2="351.51" y2="195.90" stroke="#444" stroke-width="0.5" />
<line x1="349.19" y1="194.10" x2="349.19" y2="195.90" stroke="#444" stroke-width="0.5" />
<line x1="347.39" y1="194.10" x2="347.39" y2="195.90" stroke="#444" stroke-width="0.5" />
<line x1="345.92" y1="194.10" x2="345.92" y2="195.90" stroke="#444" stroke-width="0.5" />
<line x1="344.68" y1="194.10" x2="344.68" y2="195.90" stroke="#444" stroke-width="0.5" />
<line x1="343.60" y1="194.10" x2="343.60" y2="195.90" stroke="#444" stroke-width="0.5" />
<line x1="342.65" y1="194.10" x2="342.65" y2="195.90" stroke="#444" stroke-width="0.5" />
<line x1="388.10" y1="194.10" x2="388.10" y2="195.90" stroke="#444" stroke-width="0.5" />
<line x1="393.59" y1="194.10" x2="393.59" y2="195.90" stroke="#444" stroke-width="0.5" />
<line x1="397.49" y1="194.10" x2="397.49" y2="195.90" stroke="#444" stroke-width="0.5" />
<line x1="400.52" y1="194.10" x2="400.52" y2="195.90" stroke="#444" stroke-width="0.5" />
<line x1="402.99" y1="194.10" x2="402.99" y2="195.90" stroke="#444" stroke-width="0.5" />
<line x1="405.08" y1="194.10" x2="405.08" y2="195.90" stroke="#444" stroke-width="0.5" />
<line x1="406.89" y1="194.10" x2="406.89" y2="195.90" stroke="#444" stroke-width="0.5" />
<line x1="408.48" y1="194.10" x2="408.48" y2="195.90" stroke="#444" stroke-width="0.5" />
<line x1="418.45" y1="194.10" x2="418.45" y2="195.90" stroke="#444" stroke-width="0.5" />
<line x1="423.44" y1="194.10" x2="423.44" y2="195.90" stroke="#444" stroke-width="0.5" />
<line x1="426.99" y1="194.10" x2="426.99" y2="195.90" stroke="#444" stroke-width="0.5" />
<line x1="429.74" y1="194.10" x2="429.74" y2="195.90" stroke="#444" stroke-width="0.5" />
<line x1="431.98" y1="194.10" x2="431.98" y2="195.90" stroke="#444" stroke-width="0.5" />
<line x1="433.88" y1="194.10" x2="433.88" y2="195.90" stroke="#444" stroke-width="0.5" />
<line x1="435.53" y1="194.10" x2="435.53" y2="195.90" stroke="#444" stroke-width="0.5" />
<line x1="436.98" y1="194.10" x2="436.98" y2="195.90" stroke="#444" stroke-width="0.5" />
<line x1="446.85" y1="194.10" x2="446.85" y2="195.90" stroke="#444" stroke-width="0.5" />
<line x1="367.98" y1="194.10" x2="367.98" y2="195.90" stroke="#444" stroke-width="0.5" />
<line x1="371.80" y1="194.10" x2="371.80" y2="195.90" stroke="#444" stroke-width="0.5" />
<line x1="374.37" y1="194.10" x2="374.37" y2="195.90" stroke="#444" stroke-width="0.5" />
<line x1="376.31" y1="194.10" x2="376.31" y2="195.90" stroke="#444" stroke-width="0.5" />
<line x1="377.87" y1="194.10" x2="377.87" y2="195.90" stroke="#444" stroke-width="0.5" />
<g clip-path="url(#hclip3)">
<path d="M516.28,194.07 C516.70,193.42 517.95,192.50 518.78,190.18 C519.62,187.87 520.56,185.18 521.29,180.17 C522.02,175.16 522.54,167.64 523.17,160.13 C523.79,152.62 524.48,143.44 525.04,135.09 C525.61,126.74 526.09,116.72 526.55,110.04 C527.01,103.37 527.32,98.36 527.80,95.02 C528.28,91.68 528.95,90.01 529.43,90.01 C529.91,90.01 530.26,91.68 530.68,95.02 C531.10,98.36 531.51,103.78 531.93,110.04 C532.35,116.30 532.70,125.28 533.18,132.58 C533.66,139.89 534.25,147.61 534.81,153.87 C535.37,160.13 535.90,165.35 536.56,170.15 C537.23,174.95 537.92,179.33 538.82,182.67 C539.72,186.01 540.80,188.28 541.95,190.18 C543.10,192.08 545.08,193.42 545.70,194.07 L545.70,194.10 L516.28,194.10 Z" fill="#cfcfcf"/>
<path d="M491.28,194.13 C492.01,193.90 494.20,193.26 495.66,192.73 C497.12,192.20 498.14,191.42 500.04,190.98 C501.94,190.54 507.05,190.34 507.05,190.10 C507.04,189.87 499.92,189.75 500.00,189.56 C500.08,189.36 505.43,189.35 507.51,188.93 C509.60,188.51 511.27,188.10 512.52,187.05 C513.77,186.01 514.30,185.07 515.03,182.67 C515.76,180.27 516.28,176.41 516.90,172.65 C517.53,168.90 518.16,165.35 518.78,160.13 C519.41,154.91 520.04,147.61 520.66,141.35 C521.29,135.09 522.02,128.20 522.54,122.57 C523.06,116.93 523.37,112.13 523.79,107.54 C524.21,102.95 524.73,97.42 525.04,95.02 C525.36,92.62 525.36,92.51 525.67,93.14 C525.98,93.77 526.50,97.63 526.92,98.77 C527.34,99.92 527.76,99.92 528.17,100.03 C528.59,100.13 529.01,98.15 529.43,99.40 C529.84,100.65 530.26,104.10 530.68,107.54 C531.10,110.98 531.51,115.47 531.93,120.06 C532.35,124.65 532.77,130.08 533.18,135.09 C533.60,140.10 533.91,145.11 534.44,150.11 C534.96,155.12 535.58,160.97 536.31,165.14 C537.04,169.31 537.77,172.03 538.82,175.16 C539.86,178.29 541.32,181.42 542.57,183.92 C543.83,186.43 544.66,188.72 546.33,190.18 C548.00,191.64 550.30,192.10 552.59,192.69 C554.89,193.27 557.60,193.46 560.11,193.69 C562.61,193.92 566.37,194.00 567.62,194.07" fill="none" stroke="#000" stroke-width="1.25" stroke-linejoin="round"/>
<path d="M516.28,182.67 C516.59,180.58 517.53,174.74 518.16,170.15 C518.78,165.56 519.41,160.55 520.04,155.12 C520.66,149.70 521.29,143.44 521.91,137.59 C522.54,131.75 523.17,125.70 523.79,120.06 C524.42,114.43 525.15,107.54 525.67,103.78 C526.19,100.03 526.40,98.19 526.92,97.52 C527.44,96.85 528.11,97.48 528.80,99.78 C529.49,102.07 530.39,106.87 531.05,111.30 C531.72,115.72 532.24,121.52 532.81,126.32 C533.37,131.12 533.85,135.30 534.44,140.10 C535.02,144.90 535.69,150.53 536.31,155.12 C536.94,159.71 537.46,163.68 538.19,167.64 C538.92,171.61 539.76,175.78 540.70,178.91 C541.64,182.04 542.68,184.34 543.83,186.43 C544.97,188.51 546.12,190.23 547.58,191.44 C549.04,192.65 551.76,193.31 552.59,193.69" fill="none" stroke="#000" stroke-width="1.25" stroke-dasharray="3.2,1.9"/>
<path d="M491.28,194.13 C492.15,193.78 495.07,192.90 496.53,192.03 C497.99,191.15 499.16,189.63 500.04,188.88 C500.91,188.12 501.21,187.42 501.79,187.47 C502.37,187.53 502.81,188.70 503.54,189.23 C504.27,189.75 506.76,190.57 506.17,190.63 C505.58,190.68 500.40,189.72 500.00,189.56 C499.60,189.40 502.09,189.62 503.76,189.68 C505.43,189.75 508.14,189.95 510.02,189.93 C511.90,189.91 513.57,190.35 515.03,189.56 C516.49,188.76 517.74,187.99 518.78,185.18 C519.83,182.36 520.56,176.83 521.29,172.65 C522.02,168.48 522.54,164.31 523.17,160.13 C523.79,155.96 524.42,152.20 525.04,147.61 C525.67,143.02 526.40,137.17 526.92,132.58 C527.44,127.99 527.76,124.03 528.17,120.06 C528.59,116.10 528.95,111.71 529.43,108.79 C529.91,105.87 530.57,104.20 531.05,102.53 C531.53,100.86 531.89,100.23 532.31,98.77 C532.72,97.31 533.20,93.97 533.56,93.77 C533.91,93.56 534.08,95.23 534.44,97.52 C534.79,99.82 535.27,104.20 535.69,107.54 C536.10,110.88 536.52,114.22 536.94,117.56 C537.36,120.90 537.77,124.65 538.19,127.57 C538.61,130.50 539.03,132.58 539.44,135.09 C539.86,137.59 540.17,140.10 540.70,142.60 C541.22,145.11 541.95,147.19 542.57,150.11 C543.20,153.04 543.83,157.00 544.45,160.13 C545.08,163.26 545.70,166.18 546.33,168.90 C546.96,171.61 547.58,174.11 548.21,176.41 C548.84,178.71 549.36,180.79 550.09,182.67 C550.82,184.55 551.55,186.32 552.59,187.68 C553.64,189.04 554.68,189.98 556.35,190.81 C558.02,191.64 560.33,192.21 562.61,192.69 C564.88,193.17 567.49,193.46 570.00,193.69 C572.50,193.92 576.45,193.99 577.64,194.07 C578.82,194.14 576.33,194.12 577.12,194.13 C577.91,194.14 581.50,194.13 582.38,194.13" fill="none" stroke="#e2382b" stroke-width="1.25" stroke-linejoin="round"/>
<path d="M526.92,130.08 C527.13,128.20 527.69,122.57 528.17,118.81 C528.65,115.05 529.28,110.67 529.80,107.54 C530.32,104.41 530.80,102.01 531.30,100.03 C531.81,98.04 532.29,96.27 532.81,95.64 C533.33,95.02 533.85,94.91 534.44,96.27 C535.02,97.63 535.79,101.07 536.31,103.78 C536.84,106.50 537.11,109.42 537.57,112.55 C538.02,115.68 538.55,119.23 539.07,122.57 C539.59,125.90 540.15,129.24 540.70,132.58 C541.24,135.92 541.80,139.68 542.32,142.60 C542.85,145.52 543.26,147.19 543.83,150.11 C544.39,153.04 545.08,157.21 545.70,160.13 C546.33,163.05 546.85,164.93 547.58,167.64 C548.31,170.36 549.25,173.70 550.09,176.41 C550.92,179.12 551.65,181.84 552.59,183.92 C553.53,186.01 554.47,187.58 555.72,188.93 C556.97,190.29 558.54,191.31 560.11,192.06 C561.67,192.81 563.44,193.11 565.11,193.44 C566.78,193.77 569.29,193.96 570.12,194.07" fill="none" stroke="#e2382b" stroke-width="1.25" stroke-dasharray="3.2,1.9"/>
</g>
<rect x="469.60" y="80.50" width="112.80" height="113.60" fill="none" stroke="#444" stroke-width="0.85"/>
<line x1="469.60" y1="193.80" x2="582.40" y2="193.80" stroke="#e2382b" stroke-width="1.0"/>
<line x1="476.48" y1="194.10" x2="476.48" y2="197.10" stroke="#333" stroke-width="0.7" />
<text x="476.48" y="204.20" font-size="6.5" text-anchor="middle" fill="#3a3a3a">−10<tspan font-size="5.0" dy="-2.6">3</tspan></text>
<line x1="497.24" y1="194.10" x2="497.24" y2="197.10" stroke="#333" stroke-width="0.7" />
<text x="497.24" y="204.20" font-size="6.5" text-anchor="middle" fill="#3a3a3a">0</text>
<line x1="514.61" y1="194.10" x2="514.61" y2="197.10" stroke="#333" stroke-width="0.7" />
<text x="514.61" y="204.20" font-size="6.5" text-anchor="middle" fill="#3a3a3a">10<tspan font-size="5.0" dy="-2.6">3</tspan></text>
<line x1="545.29" y1="194.10" x2="545.29" y2="197.10" stroke="#333" stroke-width="0.7" />
<text x="545.29" y="204.20" font-size="6.5" text-anchor="middle" fill="#3a3a3a">10<tspan font-size="5.0" dy="-2.6">4</tspan></text>
<line x1="572.25" y1="194.10" x2="572.25" y2="197.10" stroke="#333" stroke-width="0.7" />
<text x="572.25" y="204.20" font-size="6.5" text-anchor="middle" fill="#3a3a3a">10<tspan font-size="5.0" dy="-2.6">5</tspan></text>
<line x1="490.57" y1="194.10" x2="490.57" y2="195.90" stroke="#444" stroke-width="0.5" />
<line x1="487.34" y1="194.10" x2="487.34" y2="195.90" stroke="#444" stroke-width="0.5" />
<line x1="485.04" y1="194.10" x2="485.04" y2="195.90" stroke="#444" stroke-width="0.5" />
<line x1="483.26" y1="194.10" x2="483.26" y2="195.90" stroke="#444" stroke-width="0.5" />
<line x1="481.80" y1="194.10" x2="481.80" y2="195.90" stroke="#444" stroke-width="0.5" />
<line x1="480.57" y1="194.10" x2="480.57" y2="195.90" stroke="#444" stroke-width="0.5" />
<line x1="479.50" y1="194.10" x2="479.50" y2="195.90" stroke="#444" stroke-width="0.5" />
<line x1="478.56" y1="194.10" x2="478.56" y2="195.90" stroke="#444" stroke-width="0.5" />
<line x1="523.57" y1="194.10" x2="523.57" y2="195.90" stroke="#444" stroke-width="0.5" />
<line x1="529.02" y1="194.10" x2="529.02" y2="195.90" stroke="#444" stroke-width="0.5" />
<line x1="532.88" y1="194.10" x2="532.88" y2="195.90" stroke="#444" stroke-width="0.5" />
<line x1="535.87" y1="194.10" x2="535.87" y2="195.90" stroke="#444" stroke-width="0.5" />
<line x1="538.32" y1="194.10" x2="538.32" y2="195.90" stroke="#444" stroke-width="0.5" />
<line x1="540.39" y1="194.10" x2="540.39" y2="195.90" stroke="#444" stroke-width="0.5" />
<line x1="542.18" y1="194.10" x2="542.18" y2="195.90" stroke="#444" stroke-width="0.5" />
<line x1="543.76" y1="194.10" x2="543.76" y2="195.90" stroke="#444" stroke-width="0.5" />
<line x1="553.63" y1="194.10" x2="553.63" y2="195.90" stroke="#444" stroke-width="0.5" />
<line x1="558.58" y1="194.10" x2="558.58" y2="195.90" stroke="#444" stroke-width="0.5" />
<line x1="562.09" y1="194.10" x2="562.09" y2="195.90" stroke="#444" stroke-width="0.5" />
<line x1="564.81" y1="194.10" x2="564.81" y2="195.90" stroke="#444" stroke-width="0.5" />
<line x1="567.03" y1="194.10" x2="567.03" y2="195.90" stroke="#444" stroke-width="0.5" />
<line x1="568.91" y1="194.10" x2="568.91" y2="195.90" stroke="#444" stroke-width="0.5" />
<line x1="570.54" y1="194.10" x2="570.54" y2="195.90" stroke="#444" stroke-width="0.5" />
<line x1="571.98" y1="194.10" x2="571.98" y2="195.90" stroke="#444" stroke-width="0.5" />
<line x1="581.75" y1="194.10" x2="581.75" y2="195.90" stroke="#444" stroke-width="0.5" />
<line x1="503.64" y1="194.10" x2="503.64" y2="195.90" stroke="#444" stroke-width="0.5" />
<line x1="507.43" y1="194.10" x2="507.43" y2="195.90" stroke="#444" stroke-width="0.5" />
<line x1="509.97" y1="194.10" x2="509.97" y2="195.90" stroke="#444" stroke-width="0.5" />
<line x1="511.89" y1="194.10" x2="511.89" y2="195.90" stroke="#444" stroke-width="0.5" />
<line x1="513.44" y1="194.10" x2="513.44" y2="195.90" stroke="#444" stroke-width="0.5" />
<text x="112.50" y="220.90" font-size="11" font-weight="bold" text-anchor="middle" fill="#111" >CD40</text>
<text x="260.00" y="220.90" font-size="11" font-weight="bold" text-anchor="middle" fill="#111" >MHCII</text>
<text x="394.60" y="220.90" font-size="11" font-weight="bold" text-anchor="middle" fill="#111" >CD80</text>
<text x="530.90" y="220.90" font-size="11" font-weight="bold" text-anchor="middle" fill="#111" >CD86</text>
<rect x="587.2" y="127.00" width="23.8" height="5.2" fill="#cfcfcf"/>
<text x="618.3" y="133.20" font-size="10.1" fill="#111">Isotype control</text>
<rect x="587.2" y="141.20" width="23.8" height="5.2" fill="#000"/>
<text x="618.3" y="147.40" font-size="10.1" fill="#111">Ctrl</text>
<line x1="587.6" y1="157.60" x2="611" y2="157.60" stroke="#000" stroke-width="4.6" stroke-dasharray="1.7,1.7"/>
<text x="618.3" y="161.20" font-size="10.1" fill="#111">Acly<tspan font-size="6.2" dy="-3.6">M-KO</tspan></text>
<rect x="587.2" y="170.10" width="23.8" height="5.2" fill="#e8423c"/>
<text x="618.3" y="176.30" font-size="10.1" fill="#111">Ctrl + LPS</text>
<line x1="587.6" y1="185.10" x2="611" y2="185.10" stroke="#e8423c" stroke-width="4.6" stroke-dasharray="1.7,1.7"/>
<text x="618.3" y="188.70" font-size="10.1" fill="#111">Acly<tspan font-size="6.2" dy="-3.6">M-KO</tspan><tspan dy="3.6" dx="1.7">+ LPS</tspan></text>
<g fill="none" stroke="#000" stroke-linecap="round" stroke-linejoin="round">
<path d="M44,2.2 C50,2.6 56,4.4 60.5,7 C63.5,8.8 65.8,11.4 67.3,14.2" stroke-width="1.55"/>
<path d="M54.2,23.6 C55,18.2 60,14.2 66.2,14.2 C71.6,14.2 75.7,18 76.6,23.4" stroke-width="0.95"/>
<path d="M62.6,27.6 C62.5,24.4 60.2,22.5 57.2,22.6 C54.2,22.7 52.2,25.2 52.2,28.1 C52.3,31 54.4,32.8 56.7,33.6 C58,35.6 59.2,37.8 60.5,39.9" stroke-width="0.95"/>
<path d="M67.4,27.6 C67.5,24.4 69.8,22.5 72.8,22.6 C75.8,22.7 77.8,25.2 77.8,28.1 C77.7,31 75.6,32.8 73.3,33.6 C72,35.6 70.8,37.8 69.5,39.9" stroke-width="0.95"/>
<path d="M51.7,40.6 L61,40.6 M69,40.6 L78.8,40.6" stroke-width="0.6"/>
<path d="M52.5,41.6 Q56.5,41 61,41.2 M77.5,41.6 Q73.5,41 69,41.2" stroke-width="0.5"/>
<path d="M55,43.2 Q57.5,41.8 61,41.5 M75,43.2 Q72.5,41.8 69,41.5" stroke-width="0.5"/>
<path d="M57.5,44 Q59,42.6 61.5,41.8 M72.5,44 Q71,42.6 68.5,41.8" stroke-width="0.45"/>
<ellipse cx="62.6" cy="37.3" rx="1.05" ry="1.25" fill="#000" stroke="none"/>
<ellipse cx="67.5" cy="37.3" rx="1.05" ry="1.25" fill="#000" stroke="none"/>
<path d="M60.6,39.9 L69.4,39.9 L68.6,41.6 L61.4,41.6 Z" fill="#000" stroke="none"/>
<circle cx="63.2" cy="41" r="0.55" fill="#fff" stroke="none"/><circle cx="66.8" cy="41" r="0.55" fill="#fff" stroke="none"/>
</g>
<g transform="translate(589.50,0) scale(-1,1)" fill="none" stroke="#000" stroke-linecap="round" stroke-linejoin="round">
<path d="M44,2.2 C50,2.6 56,4.4 60.5,7 C63.5,8.8 65.8,11.4 67.3,14.2" stroke-width="1.55"/>
<path d="M54.2,23.6 C55,18.2 60,14.2 66.2,14.2 C71.6,14.2 75.7,18 76.6,23.4" stroke-width="0.95"/>
<path d="M62.6,27.6 C62.5,24.4 60.2,22.5 57.2,22.6 C54.2,22.7 52.2,25.2 52.2,28.1 C52.3,31 54.4,32.8 56.7,33.6 C58,35.6 59.2,37.8 60.5,39.9" stroke-width="0.95"/>
<path d="M67.4,27.6 C67.5,24.4 69.8,22.5 72.8,22.6 C75.8,22.7 77.8,25.2 77.8,28.1 C77.7,31 75.6,32.8 73.3,33.6 C72,35.6 70.8,37.8 69.5,39.9" stroke-width="0.95"/>
<path d="M51.7,40.6 L61,40.6 M69,40.6 L78.8,40.6" stroke-width="0.6"/>
<path d="M52.5,41.6 Q56.5,41 61,41.2 M77.5,41.6 Q73.5,41 69,41.2" stroke-width="0.5"/>
<path d="M55,43.2 Q57.5,41.8 61,41.5 M75,43.2 Q72.5,41.8 69,41.5" stroke-width="0.5"/>
<path d="M57.5,44 Q59,42.6 61.5,41.8 M72.5,44 Q71,42.6 68.5,41.8" stroke-width="0.45"/>
<ellipse cx="62.6" cy="37.3" rx="1.05" ry="1.25" fill="#000" stroke="none"/>
<ellipse cx="67.5" cy="37.3" rx="1.05" ry="1.25" fill="#000" stroke="none"/>
<path d="M60.6,39.9 L69.4,39.9 L68.6,41.6 L61.4,41.6 Z" fill="#000" stroke="none"/>
<circle cx="63.2" cy="41" r="0.55" fill="#fff" stroke="none"/><circle cx="66.8" cy="41" r="0.55" fill="#fff" stroke="none"/>
</g>
<path d="M123.6,11.6 C124.6,10.9 127.8,11 128.7,11.8 C129.6,12.7 128.9,14.3 127.3,14.6 C126.6,14.8 126.1,15.6 125.9,16.6 L123.1,37.6 C123.9,38.5 124.1,40 123.6,41.4 C123.4,42.8 122.6,44.2 121.2,44.3 C120.2,44.4 119.6,43.4 119.1,42.6 C118.2,42.7 117.2,42 117.3,40.8 C117.4,39.6 118.7,38.4 120.2,37.9 L122.8,16.5 C122.7,15.5 122.3,14.8 122.2,13.8 C122.1,12.8 122.6,12.1 123.6,11.6 Z" fill="#e4e4e4" stroke="#111" stroke-width="0.75" stroke-linejoin="round"/>
<path d="M123.8,17.5 L121.2,37.5" fill="none" stroke="#444" stroke-width="0.45"/>
<path d="M123.6,11.6 C124.6,10.9 127.8,11 128.7,11.8 C129.6,12.7 128.9,14.3 127.3,14.6 C126.6,14.8 126.1,15.6 125.9,16.6 L123.1,37.6 C123.9,38.5 124.1,40 123.6,41.4 C123.4,42.8 122.6,44.2 121.2,44.3 C120.2,44.4 119.6,43.4 119.1,42.6 C118.2,42.7 117.2,42 117.3,40.8 C117.4,39.6 118.7,38.4 120.2,37.9 L122.8,16.5 C122.7,15.5 122.3,14.8 122.2,13.8 C122.1,12.8 122.6,12.1 123.6,11.6 Z" fill="#e4e4e4" stroke="#111" stroke-width="0.75" stroke-linejoin="round" transform="rotate(180 123.15 27.85) translate(-337.6,-0.3)"/>
<path d="M123.8,17.5 L121.2,37.5" fill="none" stroke="#444" stroke-width="0.45" transform="rotate(180 123.15 27.85) translate(-337.6,-0.3)"/>
<path d="M178.5,16.2 C180,15.4 182,15.1 183.1,15.2 C186,15.3 188,15.8 189.7,16.2 C192,16.8 194.5,17.4 196.3,17.7 C197.8,17.3 199,16.8 200.2,16.9 C201.2,17.2 201.9,17.8 202.2,18.5 C202.6,19.3 203,20.2 203.5,20.8 C205,21 206.6,21.1 207.5,21.5 C208.1,21.9 207.9,22.3 207.8,22.5 C206.8,23.3 205.6,24.1 204.8,24.8 C204.5,25.2 204.3,25.5 204.2,25.7 C205.8,26.5 208,27.3 209.4,28 C209.2,28.5 208.6,28.8 208.1,29 C206.6,29.7 205,30.4 203.5,31 C204.2,32.3 205.2,33.8 205.5,34.9 C205.2,35.3 204.7,35.4 204.2,35.3 C202,34.6 199.8,33.8 197.6,33 C195.6,32.4 193.6,31.7 191.7,31 C191,31.5 190.3,32 189.7,32.6 C189.1,33.3 188.6,34 188.1,34.6 C187.6,34.5 187.2,34.1 186.8,33.6 C185.2,31.5 183.5,29.2 181.8,27.1 C180.2,26 178.7,25 177.2,24.1 C176.8,23.8 176.6,23.4 176.6,23.1 C177.9,22.2 179.3,21.3 180.5,20.5 C180.6,20.3 180.7,20 180.8,19.8 C180,18.7 179.1,17.6 178.2,16.5 Z" fill="#000"/>
<path d="M178.5,16.2 C180,15.4 182,15.1 183.1,15.2 C186,15.3 188,15.8 189.7,16.2 C192,16.8 194.5,17.4 196.3,17.7 C197.8,17.3 199,16.8 200.2,16.9 C201.2,17.2 201.9,17.8 202.2,18.5 C202.6,19.3 203,20.2 203.5,20.8 C205,21 206.6,21.1 207.5,21.5 C208.1,21.9 207.9,22.3 207.8,22.5 C206.8,23.3 205.6,24.1 204.8,24.8 C204.5,25.2 204.3,25.5 204.2,25.7 C205.8,26.5 208,27.3 209.4,28 C209.2,28.5 208.6,28.8 208.1,29 C206.6,29.7 205,30.4 203.5,31 C204.2,32.3 205.2,33.8 205.5,34.9 C205.2,35.3 204.7,35.4 204.2,35.3 C202,34.6 199.8,33.8 197.6,33 C195.6,32.4 193.6,31.7 191.7,31 C191,31.5 190.3,32 189.7,32.6 C189.1,33.3 188.6,34 188.1,34.6 C187.6,34.5 187.2,34.1 186.8,33.6 C185.2,31.5 183.5,29.2 181.8,27.1 C180.2,26 178.7,25 177.2,24.1 C176.8,23.8 176.6,23.4 176.6,23.1 C177.9,22.2 179.3,21.3 180.5,20.5 C180.6,20.3 180.7,20 180.8,19.8 C180,18.7 179.1,17.6 178.2,16.5 Z" fill="#e2382a" transform="translate(78.4,-0.4)"/>
<path d="M178.5,16.2 C180,15.4 182,15.1 183.1,15.2 C186,15.3 188,15.8 189.7,16.2 C192,16.8 194.5,17.4 196.3,17.7 C197.8,17.3 199,16.8 200.2,16.9 C201.2,17.2 201.9,17.8 202.2,18.5 C202.6,19.3 203,20.2 203.5,20.8 C205,21 206.6,21.1 207.5,21.5 C208.1,21.9 207.9,22.3 207.8,22.5 C206.8,23.3 205.6,24.1 204.8,24.8 C204.5,25.2 204.3,25.5 204.2,25.7 C205.8,26.5 208,27.3 209.4,28 C209.2,28.5 208.6,28.8 208.1,29 C206.6,29.7 205,30.4 203.5,31 C204.2,32.3 205.2,33.8 205.5,34.9 C205.2,35.3 204.7,35.4 204.2,35.3 C202,34.6 199.8,33.8 197.6,33 C195.6,32.4 193.6,31.7 191.7,31 C191,31.5 190.3,32 189.7,32.6 C189.1,33.3 188.6,34 188.1,34.6 C187.6,34.5 187.2,34.1 186.8,33.6 C185.2,31.5 183.5,29.2 181.8,27.1 C180.2,26 178.7,25 177.2,24.1 C176.8,23.8 176.6,23.4 176.6,23.1 C177.9,22.2 179.3,21.3 180.5,20.5 C180.6,20.3 180.7,20 180.8,19.8 C180,18.7 179.1,17.6 178.2,16.5 Z" fill="url(#fchkR)" stroke="#e2382a" stroke-width="0.9" transform="translate(119.1,-0.2)"/>
<path d="M178.5,16.2 C180,15.4 182,15.1 183.1,15.2 C186,15.3 188,15.8 189.7,16.2 C192,16.8 194.5,17.4 196.3,17.7 C197.8,17.3 199,16.8 200.2,16.9 C201.2,17.2 201.9,17.8 202.2,18.5 C202.6,19.3 203,20.2 203.5,20.8 C205,21 206.6,21.1 207.5,21.5 C208.1,21.9 207.9,22.3 207.8,22.5 C206.8,23.3 205.6,24.1 204.8,24.8 C204.5,25.2 204.3,25.5 204.2,25.7 C205.8,26.5 208,27.3 209.4,28 C209.2,28.5 208.6,28.8 208.1,29 C206.6,29.7 205,30.4 203.5,31 C204.2,32.3 205.2,33.8 205.5,34.9 C205.2,35.3 204.7,35.4 204.2,35.3 C202,34.6 199.8,33.8 197.6,33 C195.6,32.4 193.6,31.7 191.7,31 C191,31.5 190.3,32 189.7,32.6 C189.1,33.3 188.6,34 188.1,34.6 C187.6,34.5 187.2,34.1 186.8,33.6 C185.2,31.5 183.5,29.2 181.8,27.1 C180.2,26 178.7,25 177.2,24.1 C176.8,23.8 176.6,23.4 176.6,23.1 C177.9,22.2 179.3,21.3 180.5,20.5 C180.6,20.3 180.7,20 180.8,19.8 C180,18.7 179.1,17.6 178.2,16.5 Z" fill="url(#fchkK)" stroke="#000" stroke-width="0.8" transform="translate(200.5,0.1)"/>
<line x1="78.20" y1="25.40" x2="116.60" y2="25.40" stroke="#333" stroke-width="0.9" />
<line x1="116.60" y1="23.90" x2="116.60" y2="26.90" stroke="#333" stroke-width="1.3" />
<line x1="132.10" y1="25.20" x2="170.60" y2="25.20" stroke="#333" stroke-width="0.9" />
<path d="M173.20,25.20 L170.00,23.75 L170.00,26.65 Z" fill="#222"/>
<line x1="209.70" y1="24.80" x2="247.70" y2="24.80" stroke="#333" stroke-width="0.9" />
<path d="M250.30,24.80 L247.10,23.35 L247.10,26.25 Z" fill="#222"/>
<text x="230.00" y="21.70" font-size="9.2" font-weight="normal" text-anchor="middle" fill="#222" >LPS</text>
<line x1="373.40" y1="24.70" x2="335.50" y2="24.70" stroke="#333" stroke-width="0.9" />
<path d="M332.90,24.70 L336.10,23.25 L336.10,26.15 Z" fill="#222"/>
<text x="353.15" y="21.60" font-size="9.2" font-weight="normal" text-anchor="middle" fill="#222" >LPS</text>
<line x1="454.60" y1="25.20" x2="416.40" y2="25.20" stroke="#333" stroke-width="0.9" />
<path d="M413.80,25.20 L417.00,23.75 L417.00,26.65 Z" fill="#222"/>
<line x1="508.30" y1="25.40" x2="470.40" y2="25.40" stroke="#333" stroke-width="0.9" />
<path d="M467.80,25.40 L471.00,23.95 L471.00,26.85 Z" fill="#222"/>
<text x="65.10" y="53.40" font-size="10" font-weight="bold" text-anchor="middle" fill="#111" >Ctrl</text>
<text x="193.00" y="52.60" font-size="9" font-weight="bold" text-anchor="middle" fill="#111" >BMDM</text>
<text x="393.60" y="52.60" font-size="9" font-weight="bold" text-anchor="middle" fill="#111" >BMDM</text>
<text x="501.9" y="53.1" font-size="9.8" font-weight="bold" fill="#111">Acly<tspan font-size="6.6" dy="-2.4" dx="0.2">M-KO</tspan></text>
</svg>
</body></html>
